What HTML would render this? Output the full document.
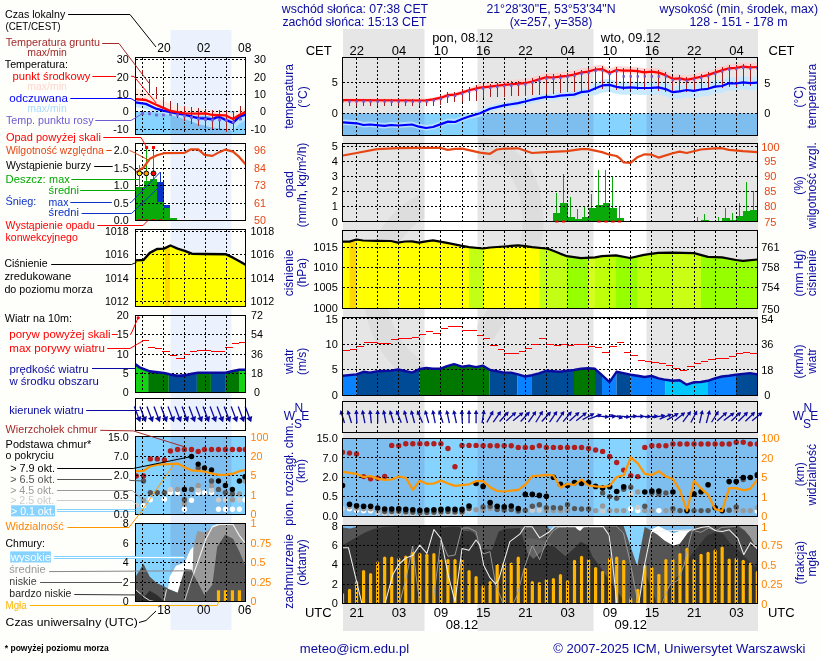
<!DOCTYPE html>
<html><head><meta charset="utf-8"><title>Meteogram</title>
<style>
html,body{margin:0;padding:0;background:#fefefb;}
body{width:820px;height:660px;overflow:hidden;}
svg{display:block;font-family:"Liberation Sans",sans-serif;will-change:transform;}
</style></head><body>
<svg width="820" height="660" viewBox="0 0 820 660">
<defs><clipPath id="night"><rect x="343" y="0" width="81.5" height="660"/><rect x="477.5" y="0" width="116" height="660"/><rect x="646.5" y="0" width="111.5" height="660"/><rect x="170.5" y="0" width="61" height="660"/></clipPath>
<clipPath id="p1"><rect x="342.5" y="57.5" width="415" height="78"/></clipPath>
<clipPath id="p2"><rect x="342.5" y="143.5" width="415" height="78"/></clipPath>
<clipPath id="p3"><rect x="342.5" y="230.5" width="415" height="78"/></clipPath>
<clipPath id="p4"><rect x="342.5" y="317.5" width="415" height="78"/></clipPath>
<clipPath id="p5"><rect x="342.5" y="401.5" width="415" height="31"/></clipPath>
<clipPath id="p6"><rect x="342.5" y="438.5" width="415" height="78"/></clipPath>
<clipPath id="p7"><rect x="342.5" y="525.5" width="415" height="78"/></clipPath>
<clipPath id="m1"><rect x="135.5" y="57.5" width="110" height="77"/></clipPath>
<clipPath id="m2"><rect x="135.5" y="143.5" width="110" height="77"/></clipPath>
<clipPath id="m3"><rect x="135.5" y="229.5" width="110" height="77"/></clipPath>
<clipPath id="m4"><rect x="135.5" y="315.5" width="110" height="77"/></clipPath>
<clipPath id="m5"><rect x="135.5" y="398.5" width="110" height="32"/></clipPath>
<clipPath id="m6"><rect x="135.5" y="436.5" width="110" height="78"/></clipPath>
<clipPath id="m7"><rect x="135.5" y="523.5" width="110" height="78"/></clipPath>
<clipPath id="nb1"><rect x="343" y="29" width="81.5" height="602"/></clipPath>
<clipPath id="pc0"><rect x="343" y="230.5" width="6.5" height="78"/></clipPath>
<clipPath id="pc1"><rect x="349.5" y="230.5" width="7" height="78"/></clipPath>
<clipPath id="pc2"><rect x="356.5" y="230.5" width="112.5" height="78"/></clipPath>
<clipPath id="pc3"><rect x="469" y="230.5" width="14" height="78"/></clipPath>
<clipPath id="pc4"><rect x="483" y="230.5" width="56.5" height="78"/></clipPath>
<clipPath id="pc5"><rect x="539.5" y="230.5" width="27.5" height="78"/></clipPath>
<clipPath id="pc6"><rect x="567" y="230.5" width="21" height="78"/></clipPath>
<clipPath id="pc7"><rect x="588" y="230.5" width="7" height="78"/></clipPath>
<clipPath id="pc8"><rect x="595" y="230.5" width="21" height="78"/></clipPath>
<clipPath id="pc9"><rect x="616" y="230.5" width="21" height="78"/></clipPath>
<clipPath id="pc10"><rect x="637" y="230.5" width="36" height="78"/></clipPath>
<clipPath id="pc11"><rect x="673" y="230.5" width="28" height="78"/></clipPath>
<clipPath id="pc12"><rect x="701" y="230.5" width="57" height="78"/></clipPath>
<clipPath id="wc0"><rect x="343" y="317.5" width="13.5" height="78"/></clipPath>
<clipPath id="wc1"><rect x="356.5" y="317.5" width="63" height="78"/></clipPath>
<clipPath id="wc2"><rect x="419.5" y="317.5" width="70" height="78"/></clipPath>
<clipPath id="wc3"><rect x="489.5" y="317.5" width="28" height="78"/></clipPath>
<clipPath id="wc4"><rect x="517.5" y="317.5" width="14.5" height="78"/></clipPath>
<clipPath id="wc5"><rect x="532" y="317.5" width="42" height="78"/></clipPath>
<clipPath id="wc6"><rect x="574" y="317.5" width="21" height="78"/></clipPath>
<clipPath id="wc7"><rect x="595" y="317.5" width="7" height="78"/></clipPath>
<clipPath id="wc8"><rect x="602" y="317.5" width="14.5" height="78"/></clipPath>
<clipPath id="wc9"><rect x="616.5" y="317.5" width="14" height="78"/></clipPath>
<clipPath id="wc10"><rect x="630.5" y="317.5" width="35" height="78"/></clipPath>
<clipPath id="wc11"><rect x="665.5" y="317.5" width="42.5" height="78"/></clipPath>
<clipPath id="wc12"><rect x="708" y="317.5" width="28" height="78"/></clipPath>
<clipPath id="wc13"><rect x="736" y="317.5" width="22" height="78"/></clipPath>
<clipPath id="mpc"><rect x="165" y="229.5" width="4.8" height="77"/></clipPath>
<clipPath id="mw0"><rect x="135.5" y="315.5" width="12.7" height="77"/></clipPath>
<clipPath id="mw1"><rect x="148.2" y="315.5" width="20.6" height="77"/></clipPath>
<clipPath id="mw2"><rect x="168.8" y="315.5" width="28.1" height="77"/></clipPath>
<clipPath id="mw3"><rect x="196.9" y="315.5" width="14" height="77"/></clipPath>
<clipPath id="mw4"><rect x="210.9" y="315.5" width="14.2" height="77"/></clipPath>
<clipPath id="mw5"><rect x="225.1" y="315.5" width="13.9" height="77"/></clipPath>
<clipPath id="mw6"><rect x="239" y="315.5" width="6.5" height="77"/></clipPath></defs>
<rect x="0" y="0" width="820" height="660" fill="#fefefb" />
<rect x="343" y="29" width="415" height="602" fill="#ffffff" />
<rect x="343" y="29" width="81.5" height="602" fill="#e6e6e6" />
<rect x="477.5" y="29" width="116" height="602" fill="#e6e6e6" />
<rect x="646.5" y="29" width="111.5" height="602" fill="#e6e6e6" />
<rect x="170.5" y="30" width="61" height="600" fill="#ebf2fd" />
<g clip-path="url(#night)" fill="none" stroke="#dddddd">
<ellipse cx="455" cy="290" rx="80" ry="92" stroke-width="23" clip-path="url(#nb1)"/>
<path d="M478,148 C520,150 534,190 533,225 C532,265 505,300 484,335" stroke-width="21"/>
</g>
<g clip-path="url(#p1)">
<polygon points="342.5,113.5 757.5,113.5 757.5,135.5 342.5,135.5" fill="#87d3ff" />
<g clip-path="url(#night)">
<polygon points="342.5,113.5 757.5,113.5 757.5,135.5 342.5,135.5" fill="#7dbeee" />
</g></g>
<g clip-path="url(#p1)">
<polygon points="343,98.2 425,98.5 433,97.4 441,95.7 448,93.1 455,92.6 462,90.6 469,88.3 480,83.4 490,82.4 504,80.7 518,79.5 525,79 532,77.3 539,75.2 546,73 553,73.3 560,72.5 567,71.6 574,70.4 581,68.4 588,67.4 595.5,65.3 602.5,65 609.5,68.7 616.5,65.8 623.5,66.5 630.5,66.5 637.5,67 644.6,68.2 651.6,67.5 658.6,68.4 665.6,70.9 672.7,74.7 679.7,74.2 686.7,75.6 693.7,74.2 700.8,72.5 707.8,70.9 714.8,68.4 721.9,66.2 728.9,64.1 735.9,63.6 743,62.4 750,63.1 757.5,62.8 757.5,69.5 750,69.8 743,69.1 735.9,70.3 728.9,70.8 721.9,72.9 714.8,75.1 707.8,77.6 700.8,79.2 693.7,80.9 686.7,82.3 679.7,80.9 672.7,81.4 665.6,77.6 658.6,75.1 651.6,74.2 644.6,74.9 637.5,73.7 630.5,73.2 623.5,73.2 616.5,72.5 609.5,75.4 602.5,71.7 595.5,72 588,74.1 581,75.1 574,77.1 567,78.3 560,79.2 553,80 546,79.7 539,81.9 532,84 525,85.7 518,86.2 504,87.4 490,89.1 480,90.1 469,92.8 462,95.1 455,97.1 448,97.6 441,100.2 433,101.9 425,103 343,102.7" fill="#ffc8c8" opacity="0.7"/>
<polygon points="343,119.4 356.5,120.3 363.5,122 370,121.5 384.6,122.9 391,122 398,122.5 412,121.5 419,123.7 426,125 433,124 441,121.1 448,118.6 455,119 462,116 469,113.5 480,109.9 490,105.5 504,102.1 518,99.8 525,98.2 532,96.4 546,93.5 553,93.7 560,92.3 574,91.3 581,88.9 588,88.1 595.5,82.3 602.5,79.4 609.5,78.9 616.5,80.9 623.5,81.8 630.5,81.4 637.5,81.8 644.6,82 651.6,81.8 658.6,81.4 665.6,83.1 672.7,86.2 679.7,85.4 686.7,84 693.7,84.9 700.8,83.5 707.8,82.8 714.8,80.6 721.9,80 728.9,77.2 735.9,77.5 743,76.3 750,77.2 757.5,76.6 757.5,89.6 750,90.2 743,89.3 735.9,90.5 728.9,90.2 721.9,93 714.8,93.6 707.8,95.8 700.8,96.5 693.7,97.9 686.7,97 679.7,98.4 672.7,99.2 665.6,96.1 658.6,94.4 651.6,94.8 644.6,95 637.5,94.8 630.5,94.4 623.5,94.8 616.5,93.9 609.5,91.9 602.5,92.4 595.5,95.3 588,94.9 581,95.7 574,98.1 560,99.1 553,100.5 546,100.3 532,103.2 525,105 518,106.6 504,108.9 490,112.3 480,116.7 469,119 462,121.5 455,124.5 448,124.1 441,126.6 433,129.5 426,130.5 419,129.2 412,127 398,128 391,127.5 384.6,128.4 370,127 363.5,127.5 356.5,125.8 343,124.9" fill="#bfe6ff" opacity="0.85"/>
</g>
<g stroke="#000" stroke-width="1" stroke-dasharray="2,2" shape-rendering="crispEdges">
<line x1="356.5" y1="57.5" x2="356.5" y2="135.5"/>
<line x1="377.5" y1="57.5" x2="377.5" y2="135.5"/>
<line x1="398.5" y1="57.5" x2="398.5" y2="135.5"/>
<line x1="419.5" y1="57.5" x2="419.5" y2="135.5"/>
<line x1="440.5" y1="57.5" x2="440.5" y2="135.5"/>
<line x1="462.5" y1="57.5" x2="462.5" y2="135.5"/>
<line x1="483.5" y1="57.5" x2="483.5" y2="135.5"/>
<line x1="504.5" y1="57.5" x2="504.5" y2="135.5"/>
<line x1="525.5" y1="57.5" x2="525.5" y2="135.5"/>
<line x1="546.5" y1="57.5" x2="546.5" y2="135.5"/>
<line x1="567.5" y1="57.5" x2="567.5" y2="135.5"/>
<line x1="588.5" y1="57.5" x2="588.5" y2="135.5"/>
<line x1="609.5" y1="57.5" x2="609.5" y2="135.5"/>
<line x1="630.5" y1="57.5" x2="630.5" y2="135.5"/>
<line x1="651.5" y1="57.5" x2="651.5" y2="135.5"/>
<line x1="672.5" y1="57.5" x2="672.5" y2="135.5"/>
<line x1="694.5" y1="57.5" x2="694.5" y2="135.5"/>
<line x1="715.5" y1="57.5" x2="715.5" y2="135.5"/>
<line x1="736.5" y1="57.5" x2="736.5" y2="135.5"/>
<line x1="342.5" y1="82.5" x2="757.5" y2="82.5"/>
<line x1="342.5" y1="113.5" x2="757.5" y2="113.5"/>
</g>
<g clip-path="url(#p1)">
<line x1="349.5" y1="98.72" x2="349.5" y2="105.97" stroke="#a81e1e" stroke-width="1" shape-rendering="crispEdges"/>
<line x1="356.5" y1="98.75" x2="356.5" y2="105.93" stroke="#a81e1e" stroke-width="1" shape-rendering="crispEdges"/>
<line x1="363.5" y1="98.78" x2="363.5" y2="105.89" stroke="#a81e1e" stroke-width="1" shape-rendering="crispEdges"/>
<line x1="370.5" y1="98.8" x2="370.5" y2="105.86" stroke="#a81e1e" stroke-width="1" shape-rendering="crispEdges"/>
<line x1="377.5" y1="98.83" x2="377.5" y2="105.82" stroke="#a81e1e" stroke-width="1" shape-rendering="crispEdges"/>
<line x1="384.5" y1="98.85" x2="384.5" y2="105.79" stroke="#a81e1e" stroke-width="1" shape-rendering="crispEdges"/>
<line x1="391.5" y1="98.88" x2="391.5" y2="105.75" stroke="#a81e1e" stroke-width="1" shape-rendering="crispEdges"/>
<line x1="398.5" y1="98.9" x2="398.5" y2="105.71" stroke="#a81e1e" stroke-width="1" shape-rendering="crispEdges"/>
<line x1="405.5" y1="98.93" x2="405.5" y2="105.68" stroke="#a81e1e" stroke-width="1" shape-rendering="crispEdges"/>
<line x1="412.5" y1="98.95" x2="412.5" y2="105.64" stroke="#a81e1e" stroke-width="1" shape-rendering="crispEdges"/>
<line x1="419.5" y1="98.98" x2="419.5" y2="105.61" stroke="#a81e1e" stroke-width="1" shape-rendering="crispEdges"/>
<line x1="426.5" y1="98.79" x2="426.5" y2="105.57" stroke="#a81e1e" stroke-width="1" shape-rendering="crispEdges"/>
<line x1="433.5" y1="97.79" x2="433.5" y2="105.53" stroke="#a81e1e" stroke-width="1" shape-rendering="crispEdges"/>
<line x1="440.5" y1="94.81" x2="440.5" y2="105.31" stroke="#a81e1e" stroke-width="1" shape-rendering="crispEdges"/>
<line x1="447.5" y1="92.29" x2="447.5" y2="102.69" stroke="#a81e1e" stroke-width="1" shape-rendering="crispEdges"/>
<line x1="454.5" y1="91.64" x2="454.5" y2="102.15" stroke="#a81e1e" stroke-width="1" shape-rendering="crispEdges"/>
<line x1="462.5" y1="89.44" x2="462.5" y2="101.72" stroke="#a81e1e" stroke-width="1" shape-rendering="crispEdges"/>
<line x1="469.5" y1="87.18" x2="469.5" y2="101.35" stroke="#a81e1e" stroke-width="1" shape-rendering="crispEdges"/>
<line x1="476.5" y1="85.46" x2="476.5" y2="100.76" stroke="#a81e1e" stroke-width="1" shape-rendering="crispEdges"/>
<line x1="483.5" y1="84.25" x2="483.5" y2="97.67" stroke="#a81e1e" stroke-width="1" shape-rendering="crispEdges"/>
<line x1="490.5" y1="83.54" x2="490.5" y2="97.22" stroke="#a81e1e" stroke-width="1" shape-rendering="crispEdges"/>
<line x1="497.5" y1="82.69" x2="497.5" y2="96.78" stroke="#a81e1e" stroke-width="1" shape-rendering="crispEdges"/>
<line x1="504.5" y1="81.86" x2="504.5" y2="96.51" stroke="#a81e1e" stroke-width="1" shape-rendering="crispEdges"/>
<line x1="511.5" y1="81.26" x2="511.5" y2="96.25" stroke="#a81e1e" stroke-width="1" shape-rendering="crispEdges"/>
<line x1="518.5" y1="80.66" x2="518.5" y2="95.98" stroke="#a81e1e" stroke-width="1" shape-rendering="crispEdges"/>
<line x1="525.5" y1="80.08" x2="525.5" y2="95.64" stroke="#a81e1e" stroke-width="1" shape-rendering="crispEdges"/>
<line x1="532.5" y1="78.35" x2="532.5" y2="95.31" stroke="#a81e1e" stroke-width="1" shape-rendering="crispEdges"/>
<line x1="539.5" y1="76.24" x2="539.5" y2="94.95" stroke="#a81e1e" stroke-width="1" shape-rendering="crispEdges"/>
<line x1="546.5" y1="74.22" x2="546.5" y2="94.25" stroke="#a81e1e" stroke-width="1" shape-rendering="crispEdges"/>
<line x1="553.5" y1="74.44" x2="553.5" y2="93.6" stroke="#a81e1e" stroke-width="1" shape-rendering="crispEdges"/>
<line x1="560.5" y1="73.64" x2="560.5" y2="92.95" stroke="#a81e1e" stroke-width="1" shape-rendering="crispEdges"/>
<line x1="567.5" y1="72.71" x2="567.5" y2="92.3" stroke="#a81e1e" stroke-width="1" shape-rendering="crispEdges"/>
<line x1="574.5" y1="71.46" x2="574.5" y2="91.67" stroke="#a81e1e" stroke-width="1" shape-rendering="crispEdges"/>
<line x1="581.5" y1="69.53" x2="581.5" y2="91.27" stroke="#a81e1e" stroke-width="1" shape-rendering="crispEdges"/>
<line x1="588.5" y1="68.46" x2="588.5" y2="90.83" stroke="#a81e1e" stroke-width="1" shape-rendering="crispEdges"/>
<line x1="595.5" y1="66.5" x2="595.5" y2="89.88" stroke="#a81e1e" stroke-width="1" shape-rendering="crispEdges"/>
<line x1="602.5" y1="66.2" x2="602.5" y2="89.04" stroke="#a81e1e" stroke-width="1" shape-rendering="crispEdges"/>
<line x1="609.5" y1="69.9" x2="609.5" y2="89.54" stroke="#a81e1e" stroke-width="1" shape-rendering="crispEdges"/>
<line x1="616.5" y1="67" x2="616.5" y2="89.99" stroke="#a81e1e" stroke-width="1" shape-rendering="crispEdges"/>
<line x1="623.5" y1="67.7" x2="623.5" y2="89.89" stroke="#a81e1e" stroke-width="1" shape-rendering="crispEdges"/>
<line x1="630.5" y1="67.7" x2="630.5" y2="89.79" stroke="#a81e1e" stroke-width="1" shape-rendering="crispEdges"/>
<line x1="637.5" y1="68.2" x2="637.5" y2="89.69" stroke="#a81e1e" stroke-width="1" shape-rendering="crispEdges"/>
<line x1="644.5" y1="69.38" x2="644.5" y2="89.59" stroke="#a81e1e" stroke-width="1" shape-rendering="crispEdges"/>
<line x1="651.5" y1="68.71" x2="651.5" y2="89.58" stroke="#a81e1e" stroke-width="1" shape-rendering="crispEdges"/>
<line x1="658.5" y1="69.59" x2="658.5" y2="90.68" stroke="#a81e1e" stroke-width="1" shape-rendering="crispEdges"/>
<line x1="665.5" y1="72.06" x2="665.5" y2="91.76" stroke="#a81e1e" stroke-width="1" shape-rendering="crispEdges"/>
<line x1="672.5" y1="75.79" x2="672.5" y2="92.57" stroke="#a81e1e" stroke-width="1" shape-rendering="crispEdges"/>
<line x1="679.5" y1="75.41" x2="679.5" y2="92.21" stroke="#a81e1e" stroke-width="1" shape-rendering="crispEdges"/>
<line x1="686.5" y1="76.76" x2="686.5" y2="91.84" stroke="#a81e1e" stroke-width="1" shape-rendering="crispEdges"/>
<line x1="694.5" y1="75.21" x2="694.5" y2="91.29" stroke="#a81e1e" stroke-width="1" shape-rendering="crispEdges"/>
<line x1="701.5" y1="73.54" x2="701.5" y2="90.29" stroke="#a81e1e" stroke-width="1" shape-rendering="crispEdges"/>
<line x1="708.5" y1="71.85" x2="708.5" y2="89.28" stroke="#a81e1e" stroke-width="1" shape-rendering="crispEdges"/>
<line x1="715.5" y1="69.38" x2="715.5" y2="88.25" stroke="#a81e1e" stroke-width="1" shape-rendering="crispEdges"/>
<line x1="722.5" y1="67.22" x2="722.5" y2="87.6" stroke="#a81e1e" stroke-width="1" shape-rendering="crispEdges"/>
<line x1="729.5" y1="65.26" x2="729.5" y2="86.97" stroke="#a81e1e" stroke-width="1" shape-rendering="crispEdges"/>
<line x1="736.5" y1="64.7" x2="736.5" y2="86.57" stroke="#a81e1e" stroke-width="1" shape-rendering="crispEdges"/>
<line x1="743.5" y1="63.65" x2="743.5" y2="86.2" stroke="#a81e1e" stroke-width="1" shape-rendering="crispEdges"/>
<line x1="750.5" y1="64.28" x2="750.5" y2="86.2" stroke="#a81e1e" stroke-width="1" shape-rendering="crispEdges"/>
<line x1="757.5" y1="64" x2="757.5" y2="86.2" stroke="#a81e1e" stroke-width="1" shape-rendering="crispEdges"/>
<polyline points="343,122.4 356.5,123.3 363.5,125 370,124.5 384.6,125.9 391,125 398,125.5 412,124.5 419,126.7 426,128 433,127 441,124.1 448,121.6 455,122 462,119 469,116.5 480,113.2 490,108.8 504,105.4 518,103.1 525,101.5 532,99.7 546,96.8 553,97 560,95.6 574,94.6 581,92.2 588,91.4 595.5,88.3 602.5,85.4 609.5,84.9 616.5,86.9 623.5,87.8 630.5,87.4 637.5,87.8 644.6,88 651.6,87.8 658.6,87.4 665.6,89.1 672.7,92.2 679.7,91.4 686.7,90 693.7,90.9 700.8,89.5 707.8,88.8 714.8,86.6 721.9,86 728.9,83.2 735.9,83.5 743,82.3 750,83.2 757.5,82.6" fill="none" stroke="#0000ff" stroke-width="2.2" stroke-linejoin="round"/>
<polyline points="343,100.2 425,100.5 433,99.4 441,97.7 448,95.1 455,94.6 462,92.6 469,90.3 480,87.6 490,86.6 504,84.9 518,83.7 525,83.2 532,81.5 539,79.4 546,77.2 553,77.5 560,76.7 567,75.8 574,74.6 581,72.6 588,71.6 595.5,69.5 602.5,69.2 609.5,72.9 616.5,70 623.5,70.7 630.5,70.7 637.5,71.2 644.6,72.4 651.6,71.7 658.6,72.6 665.6,75.1 672.7,78.9 679.7,78.4 686.7,79.8 693.7,78.4 700.8,76.7 707.8,75.1 714.8,72.6 721.9,70.4 728.9,68.3 735.9,67.8 743,66.6 750,67.3 757.5,67" fill="none" stroke="#ff0000" stroke-width="2.2" stroke-linejoin="round"/>
<rect x="341.3" y="100.2" width="2.4" height="2.4" fill="#6e5ad2" />
<rect x="348.33" y="100.22" width="2.4" height="2.4" fill="#6e5ad2" />
<rect x="355.36" y="100.25" width="2.4" height="2.4" fill="#6e5ad2" />
<rect x="362.39" y="100.28" width="2.4" height="2.4" fill="#6e5ad2" />
<rect x="369.42" y="100.3" width="2.4" height="2.4" fill="#6e5ad2" />
<rect x="376.45" y="100.33" width="2.4" height="2.4" fill="#6e5ad2" />
<rect x="383.48" y="100.35" width="2.4" height="2.4" fill="#6e5ad2" />
<rect x="390.51" y="100.38" width="2.4" height="2.4" fill="#6e5ad2" />
<rect x="397.54" y="100.4" width="2.4" height="2.4" fill="#6e5ad2" />
<rect x="404.57" y="100.43" width="2.4" height="2.4" fill="#6e5ad2" />
<rect x="411.61" y="100.46" width="2.4" height="2.4" fill="#6e5ad2" />
<rect x="418.64" y="100.48" width="2.4" height="2.4" fill="#6e5ad2" />
<rect x="425.67" y="100.24" width="2.4" height="2.4" fill="#6e5ad2" />
<rect x="432.7" y="99.21" width="2.4" height="2.4" fill="#6e5ad2" />
<rect x="439.73" y="97.72" width="2.4" height="2.4" fill="#6e5ad2" />
<rect x="446.76" y="95.12" width="2.4" height="2.4" fill="#6e5ad2" />
<rect x="453.79" y="94.6" width="2.4" height="2.4" fill="#6e5ad2" />
<rect x="460.82" y="92.59" width="2.4" height="2.4" fill="#6e5ad2" />
<rect x="467.85" y="90.29" width="2.4" height="2.4" fill="#6e5ad2" />
<rect x="474.88" y="88.56" width="2.4" height="2.4" fill="#6e5ad2" />
<rect x="481.91" y="87.29" width="2.4" height="2.4" fill="#6e5ad2" />
<rect x="488.94" y="86.58" width="2.4" height="2.4" fill="#6e5ad2" />
<rect x="495.97" y="85.73" width="2.4" height="2.4" fill="#6e5ad2" />
<rect x="503" y="84.88" width="2.4" height="2.4" fill="#6e5ad2" />
<rect x="510.03" y="84.28" width="2.4" height="2.4" fill="#6e5ad2" />
<rect x="517.06" y="83.68" width="2.4" height="2.4" fill="#6e5ad2" />
<rect x="524.09" y="83.13" width="2.4" height="2.4" fill="#6e5ad2" />
<rect x="531.12" y="81.4" width="2.4" height="2.4" fill="#6e5ad2" />
<rect x="538.15" y="79.29" width="2.4" height="2.4" fill="#6e5ad2" />
<rect x="545.18" y="77.22" width="2.4" height="2.4" fill="#6e5ad2" />
<rect x="552.22" y="77.45" width="2.4" height="2.4" fill="#6e5ad2" />
<rect x="559.25" y="76.64" width="2.4" height="2.4" fill="#6e5ad2" />
<rect x="566.28" y="75.72" width="2.4" height="2.4" fill="#6e5ad2" />
<rect x="573.31" y="74.46" width="2.4" height="2.4" fill="#6e5ad2" />
<rect x="580.34" y="72.52" width="2.4" height="2.4" fill="#6e5ad2" />
<rect x="587.37" y="71.44" width="2.4" height="2.4" fill="#6e5ad2" />
<rect x="594.4" y="69.5" width="2.4" height="2.4" fill="#6e5ad2" />
<rect x="601.43" y="69.27" width="2.4" height="2.4" fill="#6e5ad2" />
<rect x="608.46" y="72.83" width="2.4" height="2.4" fill="#6e5ad2" />
<rect x="615.49" y="70.02" width="2.4" height="2.4" fill="#6e5ad2" />
<rect x="622.52" y="75.2" width="2.4" height="2.4" fill="#6e5ad2" />
<rect x="629.55" y="75.2" width="2.4" height="2.4" fill="#6e5ad2" />
<rect x="636.58" y="75.2" width="2.4" height="2.4" fill="#6e5ad2" />
<rect x="643.61" y="75.2" width="2.4" height="2.4" fill="#6e5ad2" />
<rect x="650.64" y="75.2" width="2.4" height="2.4" fill="#6e5ad2" />
<rect x="657.67" y="75.2" width="2.4" height="2.4" fill="#6e5ad2" />
<rect x="664.7" y="75.2" width="2.4" height="2.4" fill="#6e5ad2" />
<rect x="671.73" y="78.88" width="2.4" height="2.4" fill="#6e5ad2" />
<rect x="678.76" y="78.45" width="2.4" height="2.4" fill="#6e5ad2" />
<rect x="685.79" y="79.74" width="2.4" height="2.4" fill="#6e5ad2" />
<rect x="692.83" y="78.32" width="2.4" height="2.4" fill="#6e5ad2" />
<rect x="699.86" y="76.64" width="2.4" height="2.4" fill="#6e5ad2" />
<rect x="706.89" y="75" width="2.4" height="2.4" fill="#6e5ad2" />
<rect x="713.92" y="72.5" width="2.4" height="2.4" fill="#6e5ad2" />
<rect x="720.95" y="70.33" width="2.4" height="2.4" fill="#6e5ad2" />
<rect x="727.98" y="68.28" width="2.4" height="2.4" fill="#6e5ad2" />
<rect x="735.01" y="67.75" width="2.4" height="2.4" fill="#6e5ad2" />
<rect x="742.04" y="66.62" width="2.4" height="2.4" fill="#6e5ad2" />
<rect x="749.07" y="67.29" width="2.4" height="2.4" fill="#6e5ad2" />
<rect x="756.1" y="67.01" width="2.4" height="2.4" fill="#6e5ad2" />
</g>
<rect x="342.5" y="57.5" width="415" height="78" fill="none" stroke="#000" stroke-width="1" shape-rendering="crispEdges"/>
<rect x="553" y="212.7" width="7" height="8.8" fill="#0aaa0a" shape-rendering="crispEdges"/>
<rect x="560" y="203.3" width="7.5" height="18.2" fill="#0aaa0a" shape-rendering="crispEdges"/>
<rect x="567.5" y="217" width="7" height="4.5" fill="#0aaa0a" shape-rendering="crispEdges"/>
<rect x="574.5" y="219.2" width="7" height="2.3" fill="#0aaa0a" shape-rendering="crispEdges"/>
<rect x="581.5" y="217" width="7" height="4.5" fill="#0aaa0a" shape-rendering="crispEdges"/>
<rect x="588.5" y="207.9" width="7" height="13.6" fill="#0aaa0a" shape-rendering="crispEdges"/>
<rect x="595.5" y="205" width="7" height="16.5" fill="#0aaa0a" shape-rendering="crispEdges"/>
<rect x="602.5" y="203.3" width="7" height="18.2" fill="#0aaa0a" shape-rendering="crispEdges"/>
<rect x="609.5" y="207.9" width="7" height="13.6" fill="#0aaa0a" shape-rendering="crispEdges"/>
<rect x="616.5" y="218.2" width="7" height="3.3" fill="#0aaa0a" shape-rendering="crispEdges"/>
<rect x="701" y="220" width="8" height="1.5" fill="#0aaa0a" shape-rendering="crispEdges"/>
<rect x="722" y="218.2" width="8" height="3.3" fill="#0aaa0a" shape-rendering="crispEdges"/>
<rect x="730" y="220" width="6" height="1.5" fill="#0aaa0a" shape-rendering="crispEdges"/>
<rect x="736" y="215.8" width="7" height="5.7" fill="#0aaa0a" shape-rendering="crispEdges"/>
<rect x="743" y="211" width="7" height="10.5" fill="#0aaa0a" shape-rendering="crispEdges"/>
<rect x="750" y="209.8" width="7.5" height="11.7" fill="#0aaa0a" shape-rendering="crispEdges"/>
<line x1="556.5" y1="193" x2="556.5" y2="221.5" stroke="#0aaa0a" stroke-width="1" shape-rendering="crispEdges"/>
<line x1="563.5" y1="174.3" x2="563.5" y2="221.5" stroke="#0aaa0a" stroke-width="1" shape-rendering="crispEdges"/>
<line x1="570.5" y1="197.3" x2="570.5" y2="221.5" stroke="#0aaa0a" stroke-width="1" shape-rendering="crispEdges"/>
<line x1="577.5" y1="209.3" x2="577.5" y2="221.5" stroke="#0aaa0a" stroke-width="1" shape-rendering="crispEdges"/>
<line x1="584.5" y1="206.7" x2="584.5" y2="221.5" stroke="#0aaa0a" stroke-width="1" shape-rendering="crispEdges"/>
<line x1="591.5" y1="194.3" x2="591.5" y2="221.5" stroke="#0aaa0a" stroke-width="1" shape-rendering="crispEdges"/>
<line x1="598.5" y1="170.4" x2="598.5" y2="221.5" stroke="#0aaa0a" stroke-width="1" shape-rendering="crispEdges"/>
<line x1="605.5" y1="170.4" x2="605.5" y2="221.5" stroke="#0aaa0a" stroke-width="1" shape-rendering="crispEdges"/>
<line x1="612.5" y1="176.3" x2="612.5" y2="221.5" stroke="#0aaa0a" stroke-width="1" shape-rendering="crispEdges"/>
<line x1="619.5" y1="206.7" x2="619.5" y2="221.5" stroke="#0aaa0a" stroke-width="1" shape-rendering="crispEdges"/>
<line x1="697.5" y1="217" x2="697.5" y2="221.5" stroke="#0aaa0a" stroke-width="1" shape-rendering="crispEdges"/>
<line x1="704.5" y1="214" x2="704.5" y2="221.5" stroke="#0aaa0a" stroke-width="1" shape-rendering="crispEdges"/>
<line x1="718.5" y1="217" x2="718.5" y2="221.5" stroke="#0aaa0a" stroke-width="1" shape-rendering="crispEdges"/>
<line x1="725.5" y1="208.4" x2="725.5" y2="221.5" stroke="#0aaa0a" stroke-width="1" shape-rendering="crispEdges"/>
<line x1="732.5" y1="213" x2="732.5" y2="221.5" stroke="#0aaa0a" stroke-width="1" shape-rendering="crispEdges"/>
<line x1="739.5" y1="203.3" x2="739.5" y2="221.5" stroke="#0aaa0a" stroke-width="1" shape-rendering="crispEdges"/>
<line x1="746.5" y1="182" x2="746.5" y2="221.5" stroke="#0aaa0a" stroke-width="1" shape-rendering="crispEdges"/>
<line x1="753.5" y1="191.4" x2="753.5" y2="221.5" stroke="#0aaa0a" stroke-width="1" shape-rendering="crispEdges"/>
<g stroke="#000" stroke-width="1" stroke-dasharray="2,2" shape-rendering="crispEdges">
<line x1="356.5" y1="143.5" x2="356.5" y2="221.5"/>
<line x1="377.5" y1="143.5" x2="377.5" y2="221.5"/>
<line x1="398.5" y1="143.5" x2="398.5" y2="221.5"/>
<line x1="419.5" y1="143.5" x2="419.5" y2="221.5"/>
<line x1="440.5" y1="143.5" x2="440.5" y2="221.5"/>
<line x1="462.5" y1="143.5" x2="462.5" y2="221.5"/>
<line x1="483.5" y1="143.5" x2="483.5" y2="221.5"/>
<line x1="504.5" y1="143.5" x2="504.5" y2="221.5"/>
<line x1="525.5" y1="143.5" x2="525.5" y2="221.5"/>
<line x1="546.5" y1="143.5" x2="546.5" y2="221.5"/>
<line x1="567.5" y1="143.5" x2="567.5" y2="221.5"/>
<line x1="588.5" y1="143.5" x2="588.5" y2="221.5"/>
<line x1="609.5" y1="143.5" x2="609.5" y2="221.5"/>
<line x1="630.5" y1="143.5" x2="630.5" y2="221.5"/>
<line x1="651.5" y1="143.5" x2="651.5" y2="221.5"/>
<line x1="672.5" y1="143.5" x2="672.5" y2="221.5"/>
<line x1="694.5" y1="143.5" x2="694.5" y2="221.5"/>
<line x1="715.5" y1="143.5" x2="715.5" y2="221.5"/>
<line x1="736.5" y1="143.5" x2="736.5" y2="221.5"/>
<line x1="342.5" y1="146.5" x2="757.5" y2="146.5"/>
<line x1="342.5" y1="161.5" x2="757.5" y2="161.5"/>
<line x1="342.5" y1="176.5" x2="757.5" y2="176.5"/>
<line x1="342.5" y1="191.5" x2="757.5" y2="191.5"/>
<line x1="342.5" y1="206.5" x2="757.5" y2="206.5"/>
</g>
<polyline points="343,155.5 356.5,153 377,149.2 398,148.2 420,147.8 440,147.8 447.6,149.9 455,148.9 462,148.7 469,150.2 480,152.6 490,153.8 497,149.5 504,148.7 518,148.3 532,153 546,152.1 567,151.2 581,149.2 588,149.2 602,152.1 609.5,154.7 616.5,156 620,158.4 623.5,162.3 630.5,162.9 637.5,157.2 644.6,154.3 651.6,154.7 658.6,157.6 672.7,153.3 679.7,151.6 686.7,153 700.8,149.5 714.8,148.3 721.9,148.2 728.9,149.9 743,151.2 757.5,152.1" fill="none" stroke="#e64614" stroke-width="2.2" stroke-linejoin="round"/>
<rect x="342.5" y="143.5" width="415" height="78" fill="none" stroke="#000" stroke-width="1" shape-rendering="crispEdges"/>
<rect x="555.1" y="220.5" width="3.4" height="2" fill="#e60000" />
<rect x="561.9" y="220.5" width="3.4" height="2" fill="#e60000" />
<rect x="597.3" y="220.5" width="3.4" height="2" fill="#e60000" />
<rect x="604.3" y="220.5" width="3.4" height="2" fill="#e60000" />
<rect x="611.3" y="220.5" width="3.4" height="2" fill="#e60000" />
<rect x="617.8" y="220.5" width="3.4" height="2" fill="#e60000" />
<polygon points="343,241.6 349.5,241.6 356.5,239.5 363,240.5 377,240.8 391,241 398,242.6 405,241.5 412,241.3 419,242.6 426,241.3 433,240.3 447,242.9 462,245.9 469,247.2 483,248.5 490,247.5 504,246.5 518,245.4 525,246 532,247.2 546,248.5 550,249.5 560,253.6 567,256.2 581,258.2 595,257.4 602,256.2 616,255.4 630,258 644,254.9 658,252.8 672,252.6 694,253.1 708,256.9 722,257.4 736,260 743,260.8 757.5,259.5 757.5,308.5 342.5,308.5" fill="#ffff00" clip-path="url(#pc0)" shape-rendering="crispEdges"/>
<polygon points="343,241.6 349.5,241.6 356.5,239.5 363,240.5 377,240.8 391,241 398,242.6 405,241.5 412,241.3 419,242.6 426,241.3 433,240.3 447,242.9 462,245.9 469,247.2 483,248.5 490,247.5 504,246.5 518,245.4 525,246 532,247.2 546,248.5 550,249.5 560,253.6 567,256.2 581,258.2 595,257.4 602,256.2 616,255.4 630,258 644,254.9 658,252.8 672,252.6 694,253.1 708,256.9 722,257.4 736,260 743,260.8 757.5,259.5 757.5,308.5 342.5,308.5" fill="#ffd700" clip-path="url(#pc1)" shape-rendering="crispEdges"/>
<polygon points="343,241.6 349.5,241.6 356.5,239.5 363,240.5 377,240.8 391,241 398,242.6 405,241.5 412,241.3 419,242.6 426,241.3 433,240.3 447,242.9 462,245.9 469,247.2 483,248.5 490,247.5 504,246.5 518,245.4 525,246 532,247.2 546,248.5 550,249.5 560,253.6 567,256.2 581,258.2 595,257.4 602,256.2 616,255.4 630,258 644,254.9 658,252.8 672,252.6 694,253.1 708,256.9 722,257.4 736,260 743,260.8 757.5,259.5 757.5,308.5 342.5,308.5" fill="#ffff00" clip-path="url(#pc2)" shape-rendering="crispEdges"/>
<polygon points="343,241.6 349.5,241.6 356.5,239.5 363,240.5 377,240.8 391,241 398,242.6 405,241.5 412,241.3 419,242.6 426,241.3 433,240.3 447,242.9 462,245.9 469,247.2 483,248.5 490,247.5 504,246.5 518,245.4 525,246 532,247.2 546,248.5 550,249.5 560,253.6 567,256.2 581,258.2 595,257.4 602,256.2 616,255.4 630,258 644,254.9 658,252.8 672,252.6 694,253.1 708,256.9 722,257.4 736,260 743,260.8 757.5,259.5 757.5,308.5 342.5,308.5" fill="#c3ff14" clip-path="url(#pc3)" shape-rendering="crispEdges"/>
<polygon points="343,241.6 349.5,241.6 356.5,239.5 363,240.5 377,240.8 391,241 398,242.6 405,241.5 412,241.3 419,242.6 426,241.3 433,240.3 447,242.9 462,245.9 469,247.2 483,248.5 490,247.5 504,246.5 518,245.4 525,246 532,247.2 546,248.5 550,249.5 560,253.6 567,256.2 581,258.2 595,257.4 602,256.2 616,255.4 630,258 644,254.9 658,252.8 672,252.6 694,253.1 708,256.9 722,257.4 736,260 743,260.8 757.5,259.5 757.5,308.5 342.5,308.5" fill="#ffff00" clip-path="url(#pc4)" shape-rendering="crispEdges"/>
<polygon points="343,241.6 349.5,241.6 356.5,239.5 363,240.5 377,240.8 391,241 398,242.6 405,241.5 412,241.3 419,242.6 426,241.3 433,240.3 447,242.9 462,245.9 469,247.2 483,248.5 490,247.5 504,246.5 518,245.4 525,246 532,247.2 546,248.5 550,249.5 560,253.6 567,256.2 581,258.2 595,257.4 602,256.2 616,255.4 630,258 644,254.9 658,252.8 672,252.6 694,253.1 708,256.9 722,257.4 736,260 743,260.8 757.5,259.5 757.5,308.5 342.5,308.5" fill="#c3ff14" clip-path="url(#pc5)" shape-rendering="crispEdges"/>
<polygon points="343,241.6 349.5,241.6 356.5,239.5 363,240.5 377,240.8 391,241 398,242.6 405,241.5 412,241.3 419,242.6 426,241.3 433,240.3 447,242.9 462,245.9 469,247.2 483,248.5 490,247.5 504,246.5 518,245.4 525,246 532,247.2 546,248.5 550,249.5 560,253.6 567,256.2 581,258.2 595,257.4 602,256.2 616,255.4 630,258 644,254.9 658,252.8 672,252.6 694,253.1 708,256.9 722,257.4 736,260 743,260.8 757.5,259.5 757.5,308.5 342.5,308.5" fill="#96ff00" clip-path="url(#pc6)" shape-rendering="crispEdges"/>
<polygon points="343,241.6 349.5,241.6 356.5,239.5 363,240.5 377,240.8 391,241 398,242.6 405,241.5 412,241.3 419,242.6 426,241.3 433,240.3 447,242.9 462,245.9 469,247.2 483,248.5 490,247.5 504,246.5 518,245.4 525,246 532,247.2 546,248.5 550,249.5 560,253.6 567,256.2 581,258.2 595,257.4 602,256.2 616,255.4 630,258 644,254.9 658,252.8 672,252.6 694,253.1 708,256.9 722,257.4 736,260 743,260.8 757.5,259.5 757.5,308.5 342.5,308.5" fill="#d2ff1e" clip-path="url(#pc7)" shape-rendering="crispEdges"/>
<polygon points="343,241.6 349.5,241.6 356.5,239.5 363,240.5 377,240.8 391,241 398,242.6 405,241.5 412,241.3 419,242.6 426,241.3 433,240.3 447,242.9 462,245.9 469,247.2 483,248.5 490,247.5 504,246.5 518,245.4 525,246 532,247.2 546,248.5 550,249.5 560,253.6 567,256.2 581,258.2 595,257.4 602,256.2 616,255.4 630,258 644,254.9 658,252.8 672,252.6 694,253.1 708,256.9 722,257.4 736,260 743,260.8 757.5,259.5 757.5,308.5 342.5,308.5" fill="#beff0a" clip-path="url(#pc8)" shape-rendering="crispEdges"/>
<polygon points="343,241.6 349.5,241.6 356.5,239.5 363,240.5 377,240.8 391,241 398,242.6 405,241.5 412,241.3 419,242.6 426,241.3 433,240.3 447,242.9 462,245.9 469,247.2 483,248.5 490,247.5 504,246.5 518,245.4 525,246 532,247.2 546,248.5 550,249.5 560,253.6 567,256.2 581,258.2 595,257.4 602,256.2 616,255.4 630,258 644,254.9 658,252.8 672,252.6 694,253.1 708,256.9 722,257.4 736,260 743,260.8 757.5,259.5 757.5,308.5 342.5,308.5" fill="#96ff00" clip-path="url(#pc9)" shape-rendering="crispEdges"/>
<polygon points="343,241.6 349.5,241.6 356.5,239.5 363,240.5 377,240.8 391,241 398,242.6 405,241.5 412,241.3 419,242.6 426,241.3 433,240.3 447,242.9 462,245.9 469,247.2 483,248.5 490,247.5 504,246.5 518,245.4 525,246 532,247.2 546,248.5 550,249.5 560,253.6 567,256.2 581,258.2 595,257.4 602,256.2 616,255.4 630,258 644,254.9 658,252.8 672,252.6 694,253.1 708,256.9 722,257.4 736,260 743,260.8 757.5,259.5 757.5,308.5 342.5,308.5" fill="#beff0a" clip-path="url(#pc10)" shape-rendering="crispEdges"/>
<polygon points="343,241.6 349.5,241.6 356.5,239.5 363,240.5 377,240.8 391,241 398,242.6 405,241.5 412,241.3 419,242.6 426,241.3 433,240.3 447,242.9 462,245.9 469,247.2 483,248.5 490,247.5 504,246.5 518,245.4 525,246 532,247.2 546,248.5 550,249.5 560,253.6 567,256.2 581,258.2 595,257.4 602,256.2 616,255.4 630,258 644,254.9 658,252.8 672,252.6 694,253.1 708,256.9 722,257.4 736,260 743,260.8 757.5,259.5 757.5,308.5 342.5,308.5" fill="#c8ff14" clip-path="url(#pc11)" shape-rendering="crispEdges"/>
<polygon points="343,241.6 349.5,241.6 356.5,239.5 363,240.5 377,240.8 391,241 398,242.6 405,241.5 412,241.3 419,242.6 426,241.3 433,240.3 447,242.9 462,245.9 469,247.2 483,248.5 490,247.5 504,246.5 518,245.4 525,246 532,247.2 546,248.5 550,249.5 560,253.6 567,256.2 581,258.2 595,257.4 602,256.2 616,255.4 630,258 644,254.9 658,252.8 672,252.6 694,253.1 708,256.9 722,257.4 736,260 743,260.8 757.5,259.5 757.5,308.5 342.5,308.5" fill="#96ff00" clip-path="url(#pc12)" shape-rendering="crispEdges"/>
<g stroke="#000" stroke-width="1" stroke-dasharray="2,2" shape-rendering="crispEdges">
<line x1="356.5" y1="230.5" x2="356.5" y2="308.5"/>
<line x1="377.5" y1="230.5" x2="377.5" y2="308.5"/>
<line x1="398.5" y1="230.5" x2="398.5" y2="308.5"/>
<line x1="419.5" y1="230.5" x2="419.5" y2="308.5"/>
<line x1="440.5" y1="230.5" x2="440.5" y2="308.5"/>
<line x1="462.5" y1="230.5" x2="462.5" y2="308.5"/>
<line x1="483.5" y1="230.5" x2="483.5" y2="308.5"/>
<line x1="504.5" y1="230.5" x2="504.5" y2="308.5"/>
<line x1="525.5" y1="230.5" x2="525.5" y2="308.5"/>
<line x1="546.5" y1="230.5" x2="546.5" y2="308.5"/>
<line x1="567.5" y1="230.5" x2="567.5" y2="308.5"/>
<line x1="588.5" y1="230.5" x2="588.5" y2="308.5"/>
<line x1="609.5" y1="230.5" x2="609.5" y2="308.5"/>
<line x1="630.5" y1="230.5" x2="630.5" y2="308.5"/>
<line x1="651.5" y1="230.5" x2="651.5" y2="308.5"/>
<line x1="672.5" y1="230.5" x2="672.5" y2="308.5"/>
<line x1="694.5" y1="230.5" x2="694.5" y2="308.5"/>
<line x1="715.5" y1="230.5" x2="715.5" y2="308.5"/>
<line x1="736.5" y1="230.5" x2="736.5" y2="308.5"/>
<line x1="342.5" y1="247.5" x2="757.5" y2="247.5"/>
<line x1="342.5" y1="267.5" x2="757.5" y2="267.5"/>
<line x1="342.5" y1="287.5" x2="757.5" y2="287.5"/>
</g>
<polyline points="343,241.6 349.5,241.6 356.5,239.5 363,240.5 377,240.8 391,241 398,242.6 405,241.5 412,241.3 419,242.6 426,241.3 433,240.3 447,242.9 462,245.9 469,247.2 483,248.5 490,247.5 504,246.5 518,245.4 525,246 532,247.2 546,248.5 550,249.5 560,253.6 567,256.2 581,258.2 595,257.4 602,256.2 616,255.4 630,258 644,254.9 658,252.8 672,252.6 694,253.1 708,256.9 722,257.4 736,260 743,260.8 757.5,259.5" fill="none" stroke="#000" stroke-width="2.2" stroke-linejoin="round"/>
<rect x="342.5" y="230.5" width="415" height="78" fill="none" stroke="#000" stroke-width="1" shape-rendering="crispEdges"/>
<polygon points="343,375.7 356.5,374.4 363.5,371.8 370,372.6 377.6,371.3 391,370.6 398,369.5 405,371 412,372.6 419,369.3 426,368 433,368.8 440,368.8 447,366.2 454,364.2 462,366.7 469,365.7 476,367.2 483,365.7 490,370 497,371.3 504,372.6 511,372.6 518,374.4 525,376.5 532,375.2 539,373.4 546,370.8 560,371.8 567,370.8 574,370 581,368.8 588,368.3 595,368.8 602,375.2 609.5,382.1 616.5,371.8 623.5,373.1 630.5,374.7 637.5,375.7 644.6,377 651.6,376 658.6,378.3 665.6,379.8 672.7,380.8 679.7,380.3 686.7,384.7 693.7,382.3 700.8,382 707.8,380.8 714.8,378.3 721.9,376.5 728.9,375.7 735.9,374.7 743,373.9 750,373.1 757.5,374.4 757.5,395.5 342.5,395.5" fill="#0a82ff" clip-path="url(#wc0)" shape-rendering="crispEdges"/>
<polygon points="343,375.7 356.5,374.4 363.5,371.8 370,372.6 377.6,371.3 391,370.6 398,369.5 405,371 412,372.6 419,369.3 426,368 433,368.8 440,368.8 447,366.2 454,364.2 462,366.7 469,365.7 476,367.2 483,365.7 490,370 497,371.3 504,372.6 511,372.6 518,374.4 525,376.5 532,375.2 539,373.4 546,370.8 560,371.8 567,370.8 574,370 581,368.8 588,368.3 595,368.8 602,375.2 609.5,382.1 616.5,371.8 623.5,373.1 630.5,374.7 637.5,375.7 644.6,377 651.6,376 658.6,378.3 665.6,379.8 672.7,380.8 679.7,380.3 686.7,384.7 693.7,382.3 700.8,382 707.8,380.8 714.8,378.3 721.9,376.5 728.9,375.7 735.9,374.7 743,373.9 750,373.1 757.5,374.4 757.5,395.5 342.5,395.5" fill="#004b96" clip-path="url(#wc1)" shape-rendering="crispEdges"/>
<polygon points="343,375.7 356.5,374.4 363.5,371.8 370,372.6 377.6,371.3 391,370.6 398,369.5 405,371 412,372.6 419,369.3 426,368 433,368.8 440,368.8 447,366.2 454,364.2 462,366.7 469,365.7 476,367.2 483,365.7 490,370 497,371.3 504,372.6 511,372.6 518,374.4 525,376.5 532,375.2 539,373.4 546,370.8 560,371.8 567,370.8 574,370 581,368.8 588,368.3 595,368.8 602,375.2 609.5,382.1 616.5,371.8 623.5,373.1 630.5,374.7 637.5,375.7 644.6,377 651.6,376 658.6,378.3 665.6,379.8 672.7,380.8 679.7,380.3 686.7,384.7 693.7,382.3 700.8,382 707.8,380.8 714.8,378.3 721.9,376.5 728.9,375.7 735.9,374.7 743,373.9 750,373.1 757.5,374.4 757.5,395.5 342.5,395.5" fill="#007800" clip-path="url(#wc2)" shape-rendering="crispEdges"/>
<polygon points="343,375.7 356.5,374.4 363.5,371.8 370,372.6 377.6,371.3 391,370.6 398,369.5 405,371 412,372.6 419,369.3 426,368 433,368.8 440,368.8 447,366.2 454,364.2 462,366.7 469,365.7 476,367.2 483,365.7 490,370 497,371.3 504,372.6 511,372.6 518,374.4 525,376.5 532,375.2 539,373.4 546,370.8 560,371.8 567,370.8 574,370 581,368.8 588,368.3 595,368.8 602,375.2 609.5,382.1 616.5,371.8 623.5,373.1 630.5,374.7 637.5,375.7 644.6,377 651.6,376 658.6,378.3 665.6,379.8 672.7,380.8 679.7,380.3 686.7,384.7 693.7,382.3 700.8,382 707.8,380.8 714.8,378.3 721.9,376.5 728.9,375.7 735.9,374.7 743,373.9 750,373.1 757.5,374.4 757.5,395.5 342.5,395.5" fill="#004b96" clip-path="url(#wc3)" shape-rendering="crispEdges"/>
<polygon points="343,375.7 356.5,374.4 363.5,371.8 370,372.6 377.6,371.3 391,370.6 398,369.5 405,371 412,372.6 419,369.3 426,368 433,368.8 440,368.8 447,366.2 454,364.2 462,366.7 469,365.7 476,367.2 483,365.7 490,370 497,371.3 504,372.6 511,372.6 518,374.4 525,376.5 532,375.2 539,373.4 546,370.8 560,371.8 567,370.8 574,370 581,368.8 588,368.3 595,368.8 602,375.2 609.5,382.1 616.5,371.8 623.5,373.1 630.5,374.7 637.5,375.7 644.6,377 651.6,376 658.6,378.3 665.6,379.8 672.7,380.8 679.7,380.3 686.7,384.7 693.7,382.3 700.8,382 707.8,380.8 714.8,378.3 721.9,376.5 728.9,375.7 735.9,374.7 743,373.9 750,373.1 757.5,374.4 757.5,395.5 342.5,395.5" fill="#0a82ff" clip-path="url(#wc4)" shape-rendering="crispEdges"/>
<polygon points="343,375.7 356.5,374.4 363.5,371.8 370,372.6 377.6,371.3 391,370.6 398,369.5 405,371 412,372.6 419,369.3 426,368 433,368.8 440,368.8 447,366.2 454,364.2 462,366.7 469,365.7 476,367.2 483,365.7 490,370 497,371.3 504,372.6 511,372.6 518,374.4 525,376.5 532,375.2 539,373.4 546,370.8 560,371.8 567,370.8 574,370 581,368.8 588,368.3 595,368.8 602,375.2 609.5,382.1 616.5,371.8 623.5,373.1 630.5,374.7 637.5,375.7 644.6,377 651.6,376 658.6,378.3 665.6,379.8 672.7,380.8 679.7,380.3 686.7,384.7 693.7,382.3 700.8,382 707.8,380.8 714.8,378.3 721.9,376.5 728.9,375.7 735.9,374.7 743,373.9 750,373.1 757.5,374.4 757.5,395.5 342.5,395.5" fill="#004b96" clip-path="url(#wc5)" shape-rendering="crispEdges"/>
<polygon points="343,375.7 356.5,374.4 363.5,371.8 370,372.6 377.6,371.3 391,370.6 398,369.5 405,371 412,372.6 419,369.3 426,368 433,368.8 440,368.8 447,366.2 454,364.2 462,366.7 469,365.7 476,367.2 483,365.7 490,370 497,371.3 504,372.6 511,372.6 518,374.4 525,376.5 532,375.2 539,373.4 546,370.8 560,371.8 567,370.8 574,370 581,368.8 588,368.3 595,368.8 602,375.2 609.5,382.1 616.5,371.8 623.5,373.1 630.5,374.7 637.5,375.7 644.6,377 651.6,376 658.6,378.3 665.6,379.8 672.7,380.8 679.7,380.3 686.7,384.7 693.7,382.3 700.8,382 707.8,380.8 714.8,378.3 721.9,376.5 728.9,375.7 735.9,374.7 743,373.9 750,373.1 757.5,374.4 757.5,395.5 342.5,395.5" fill="#007800" clip-path="url(#wc6)" shape-rendering="crispEdges"/>
<polygon points="343,375.7 356.5,374.4 363.5,371.8 370,372.6 377.6,371.3 391,370.6 398,369.5 405,371 412,372.6 419,369.3 426,368 433,368.8 440,368.8 447,366.2 454,364.2 462,366.7 469,365.7 476,367.2 483,365.7 490,370 497,371.3 504,372.6 511,372.6 518,374.4 525,376.5 532,375.2 539,373.4 546,370.8 560,371.8 567,370.8 574,370 581,368.8 588,368.3 595,368.8 602,375.2 609.5,382.1 616.5,371.8 623.5,373.1 630.5,374.7 637.5,375.7 644.6,377 651.6,376 658.6,378.3 665.6,379.8 672.7,380.8 679.7,380.3 686.7,384.7 693.7,382.3 700.8,382 707.8,380.8 714.8,378.3 721.9,376.5 728.9,375.7 735.9,374.7 743,373.9 750,373.1 757.5,374.4 757.5,395.5 342.5,395.5" fill="#004b96" clip-path="url(#wc7)" shape-rendering="crispEdges"/>
<polygon points="343,375.7 356.5,374.4 363.5,371.8 370,372.6 377.6,371.3 391,370.6 398,369.5 405,371 412,372.6 419,369.3 426,368 433,368.8 440,368.8 447,366.2 454,364.2 462,366.7 469,365.7 476,367.2 483,365.7 490,370 497,371.3 504,372.6 511,372.6 518,374.4 525,376.5 532,375.2 539,373.4 546,370.8 560,371.8 567,370.8 574,370 581,368.8 588,368.3 595,368.8 602,375.2 609.5,382.1 616.5,371.8 623.5,373.1 630.5,374.7 637.5,375.7 644.6,377 651.6,376 658.6,378.3 665.6,379.8 672.7,380.8 679.7,380.3 686.7,384.7 693.7,382.3 700.8,382 707.8,380.8 714.8,378.3 721.9,376.5 728.9,375.7 735.9,374.7 743,373.9 750,373.1 757.5,374.4 757.5,395.5 342.5,395.5" fill="#0a82ff" clip-path="url(#wc8)" shape-rendering="crispEdges"/>
<polygon points="343,375.7 356.5,374.4 363.5,371.8 370,372.6 377.6,371.3 391,370.6 398,369.5 405,371 412,372.6 419,369.3 426,368 433,368.8 440,368.8 447,366.2 454,364.2 462,366.7 469,365.7 476,367.2 483,365.7 490,370 497,371.3 504,372.6 511,372.6 518,374.4 525,376.5 532,375.2 539,373.4 546,370.8 560,371.8 567,370.8 574,370 581,368.8 588,368.3 595,368.8 602,375.2 609.5,382.1 616.5,371.8 623.5,373.1 630.5,374.7 637.5,375.7 644.6,377 651.6,376 658.6,378.3 665.6,379.8 672.7,380.8 679.7,380.3 686.7,384.7 693.7,382.3 700.8,382 707.8,380.8 714.8,378.3 721.9,376.5 728.9,375.7 735.9,374.7 743,373.9 750,373.1 757.5,374.4 757.5,395.5 342.5,395.5" fill="#004b96" clip-path="url(#wc9)" shape-rendering="crispEdges"/>
<polygon points="343,375.7 356.5,374.4 363.5,371.8 370,372.6 377.6,371.3 391,370.6 398,369.5 405,371 412,372.6 419,369.3 426,368 433,368.8 440,368.8 447,366.2 454,364.2 462,366.7 469,365.7 476,367.2 483,365.7 490,370 497,371.3 504,372.6 511,372.6 518,374.4 525,376.5 532,375.2 539,373.4 546,370.8 560,371.8 567,370.8 574,370 581,368.8 588,368.3 595,368.8 602,375.2 609.5,382.1 616.5,371.8 623.5,373.1 630.5,374.7 637.5,375.7 644.6,377 651.6,376 658.6,378.3 665.6,379.8 672.7,380.8 679.7,380.3 686.7,384.7 693.7,382.3 700.8,382 707.8,380.8 714.8,378.3 721.9,376.5 728.9,375.7 735.9,374.7 743,373.9 750,373.1 757.5,374.4 757.5,395.5 342.5,395.5" fill="#0a82ff" clip-path="url(#wc10)" shape-rendering="crispEdges"/>
<polygon points="343,375.7 356.5,374.4 363.5,371.8 370,372.6 377.6,371.3 391,370.6 398,369.5 405,371 412,372.6 419,369.3 426,368 433,368.8 440,368.8 447,366.2 454,364.2 462,366.7 469,365.7 476,367.2 483,365.7 490,370 497,371.3 504,372.6 511,372.6 518,374.4 525,376.5 532,375.2 539,373.4 546,370.8 560,371.8 567,370.8 574,370 581,368.8 588,368.3 595,368.8 602,375.2 609.5,382.1 616.5,371.8 623.5,373.1 630.5,374.7 637.5,375.7 644.6,377 651.6,376 658.6,378.3 665.6,379.8 672.7,380.8 679.7,380.3 686.7,384.7 693.7,382.3 700.8,382 707.8,380.8 714.8,378.3 721.9,376.5 728.9,375.7 735.9,374.7 743,373.9 750,373.1 757.5,374.4 757.5,395.5 342.5,395.5" fill="#00c8ff" clip-path="url(#wc11)" shape-rendering="crispEdges"/>
<polygon points="343,375.7 356.5,374.4 363.5,371.8 370,372.6 377.6,371.3 391,370.6 398,369.5 405,371 412,372.6 419,369.3 426,368 433,368.8 440,368.8 447,366.2 454,364.2 462,366.7 469,365.7 476,367.2 483,365.7 490,370 497,371.3 504,372.6 511,372.6 518,374.4 525,376.5 532,375.2 539,373.4 546,370.8 560,371.8 567,370.8 574,370 581,368.8 588,368.3 595,368.8 602,375.2 609.5,382.1 616.5,371.8 623.5,373.1 630.5,374.7 637.5,375.7 644.6,377 651.6,376 658.6,378.3 665.6,379.8 672.7,380.8 679.7,380.3 686.7,384.7 693.7,382.3 700.8,382 707.8,380.8 714.8,378.3 721.9,376.5 728.9,375.7 735.9,374.7 743,373.9 750,373.1 757.5,374.4 757.5,395.5 342.5,395.5" fill="#0a82ff" clip-path="url(#wc12)" shape-rendering="crispEdges"/>
<polygon points="343,375.7 356.5,374.4 363.5,371.8 370,372.6 377.6,371.3 391,370.6 398,369.5 405,371 412,372.6 419,369.3 426,368 433,368.8 440,368.8 447,366.2 454,364.2 462,366.7 469,365.7 476,367.2 483,365.7 490,370 497,371.3 504,372.6 511,372.6 518,374.4 525,376.5 532,375.2 539,373.4 546,370.8 560,371.8 567,370.8 574,370 581,368.8 588,368.3 595,368.8 602,375.2 609.5,382.1 616.5,371.8 623.5,373.1 630.5,374.7 637.5,375.7 644.6,377 651.6,376 658.6,378.3 665.6,379.8 672.7,380.8 679.7,380.3 686.7,384.7 693.7,382.3 700.8,382 707.8,380.8 714.8,378.3 721.9,376.5 728.9,375.7 735.9,374.7 743,373.9 750,373.1 757.5,374.4 757.5,395.5 342.5,395.5" fill="#004b96" clip-path="url(#wc13)" shape-rendering="crispEdges"/>
<g stroke="#000" stroke-width="1" stroke-dasharray="2,2" shape-rendering="crispEdges">
<line x1="356.5" y1="317.5" x2="356.5" y2="395.5"/>
<line x1="377.5" y1="317.5" x2="377.5" y2="395.5"/>
<line x1="398.5" y1="317.5" x2="398.5" y2="395.5"/>
<line x1="419.5" y1="317.5" x2="419.5" y2="395.5"/>
<line x1="440.5" y1="317.5" x2="440.5" y2="395.5"/>
<line x1="462.5" y1="317.5" x2="462.5" y2="395.5"/>
<line x1="483.5" y1="317.5" x2="483.5" y2="395.5"/>
<line x1="504.5" y1="317.5" x2="504.5" y2="395.5"/>
<line x1="525.5" y1="317.5" x2="525.5" y2="395.5"/>
<line x1="546.5" y1="317.5" x2="546.5" y2="395.5"/>
<line x1="567.5" y1="317.5" x2="567.5" y2="395.5"/>
<line x1="588.5" y1="317.5" x2="588.5" y2="395.5"/>
<line x1="609.5" y1="317.5" x2="609.5" y2="395.5"/>
<line x1="630.5" y1="317.5" x2="630.5" y2="395.5"/>
<line x1="651.5" y1="317.5" x2="651.5" y2="395.5"/>
<line x1="672.5" y1="317.5" x2="672.5" y2="395.5"/>
<line x1="694.5" y1="317.5" x2="694.5" y2="395.5"/>
<line x1="715.5" y1="317.5" x2="715.5" y2="395.5"/>
<line x1="736.5" y1="317.5" x2="736.5" y2="395.5"/>
<line x1="342.5" y1="318.5" x2="757.5" y2="318.5"/>
<line x1="342.5" y1="344.5" x2="757.5" y2="344.5"/>
<line x1="342.5" y1="369.5" x2="757.5" y2="369.5"/>
</g>
<polyline points="343,375.7 356.5,374.4 363.5,371.8 370,372.6 377.6,371.3 391,370.6 398,369.5 405,371 412,372.6 419,369.3 426,368 433,368.8 440,368.8 447,366.2 454,364.2 462,366.7 469,365.7 476,367.2 483,365.7 490,370 497,371.3 504,372.6 511,372.6 518,374.4 525,376.5 532,375.2 539,373.4 546,370.8 560,371.8 567,370.8 574,370 581,368.8 588,368.3 595,368.8 602,375.2 609.5,382.1 616.5,371.8 623.5,373.1 630.5,374.7 637.5,375.7 644.6,377 651.6,376 658.6,378.3 665.6,379.8 672.7,380.8 679.7,380.3 686.7,384.7 693.7,382.3 700.8,382 707.8,380.8 714.8,378.3 721.9,376.5 728.9,375.7 735.9,374.7 743,373.9 750,373.1 757.5,374.4" fill="none" stroke="#0a0aa0" stroke-width="2.4" stroke-linejoin="round"/>
<line x1="343" y1="350.5" x2="349.7" y2="350.5" stroke="#ff0000" stroke-width="1" shape-rendering="crispEdges"/>
<line x1="349.7" y1="349.5" x2="356.6" y2="349.5" stroke="#ff0000" stroke-width="1" shape-rendering="crispEdges"/>
<line x1="356.6" y1="346.5" x2="363.5" y2="346.5" stroke="#ff0000" stroke-width="1" shape-rendering="crispEdges"/>
<line x1="363.5" y1="342.5" x2="377.6" y2="342.5" stroke="#ff0000" stroke-width="1" shape-rendering="crispEdges"/>
<line x1="377.6" y1="343.5" x2="391.2" y2="343.5" stroke="#ff0000" stroke-width="1" shape-rendering="crispEdges"/>
<line x1="391" y1="339.5" x2="398" y2="339.5" stroke="#ff0000" stroke-width="1" shape-rendering="crispEdges"/>
<line x1="398" y1="338.5" x2="412" y2="338.5" stroke="#ff0000" stroke-width="1" shape-rendering="crispEdges"/>
<line x1="412" y1="337.5" x2="419" y2="337.5" stroke="#ff0000" stroke-width="1" shape-rendering="crispEdges"/>
<line x1="419" y1="334.5" x2="426" y2="334.5" stroke="#ff0000" stroke-width="1" shape-rendering="crispEdges"/>
<line x1="426" y1="331.5" x2="433" y2="331.5" stroke="#ff0000" stroke-width="1" shape-rendering="crispEdges"/>
<line x1="433" y1="333.5" x2="441" y2="333.5" stroke="#ff0000" stroke-width="1" shape-rendering="crispEdges"/>
<line x1="441" y1="328.5" x2="448" y2="328.5" stroke="#ff0000" stroke-width="1" shape-rendering="crispEdges"/>
<line x1="448" y1="326.5" x2="462" y2="326.5" stroke="#ff0000" stroke-width="1" shape-rendering="crispEdges"/>
<line x1="462" y1="330.5" x2="476.5" y2="330.5" stroke="#ff0000" stroke-width="1" shape-rendering="crispEdges"/>
<line x1="476.5" y1="335.5" x2="483.4" y2="335.5" stroke="#ff0000" stroke-width="1" shape-rendering="crispEdges"/>
<line x1="483.4" y1="338.5" x2="490.3" y2="338.5" stroke="#ff0000" stroke-width="1" shape-rendering="crispEdges"/>
<line x1="490" y1="345.5" x2="497.5" y2="345.5" stroke="#ff0000" stroke-width="1" shape-rendering="crispEdges"/>
<line x1="497.5" y1="349.5" x2="504.4" y2="349.5" stroke="#ff0000" stroke-width="1" shape-rendering="crispEdges"/>
<line x1="504.4" y1="353.5" x2="518.5" y2="353.5" stroke="#ff0000" stroke-width="1" shape-rendering="crispEdges"/>
<line x1="518.5" y1="351.5" x2="525" y2="351.5" stroke="#ff0000" stroke-width="1" shape-rendering="crispEdges"/>
<line x1="525" y1="348.5" x2="532" y2="348.5" stroke="#ff0000" stroke-width="1" shape-rendering="crispEdges"/>
<line x1="532" y1="344.5" x2="539" y2="344.5" stroke="#ff0000" stroke-width="1" shape-rendering="crispEdges"/>
<line x1="539" y1="338.5" x2="546" y2="338.5" stroke="#ff0000" stroke-width="1" shape-rendering="crispEdges"/>
<line x1="546" y1="344.5" x2="554" y2="344.5" stroke="#ff0000" stroke-width="1" shape-rendering="crispEdges"/>
<line x1="554" y1="345.5" x2="560.7" y2="345.5" stroke="#ff0000" stroke-width="1" shape-rendering="crispEdges"/>
<line x1="560.7" y1="344.5" x2="567" y2="344.5" stroke="#ff0000" stroke-width="1" shape-rendering="crispEdges"/>
<line x1="567" y1="345.5" x2="574" y2="345.5" stroke="#ff0000" stroke-width="1" shape-rendering="crispEdges"/>
<line x1="574" y1="344.5" x2="588" y2="344.5" stroke="#ff0000" stroke-width="1" shape-rendering="crispEdges"/>
<line x1="588" y1="346.5" x2="595" y2="346.5" stroke="#ff0000" stroke-width="1" shape-rendering="crispEdges"/>
<line x1="595" y1="347.5" x2="602" y2="347.5" stroke="#ff0000" stroke-width="1" shape-rendering="crispEdges"/>
<line x1="602" y1="352.5" x2="609.5" y2="352.5" stroke="#ff0000" stroke-width="1" shape-rendering="crispEdges"/>
<line x1="609.5" y1="346.5" x2="616.5" y2="346.5" stroke="#ff0000" stroke-width="1" shape-rendering="crispEdges"/>
<line x1="616.5" y1="342.5" x2="623.5" y2="342.5" stroke="#ff0000" stroke-width="1" shape-rendering="crispEdges"/>
<line x1="623.5" y1="352.5" x2="630.5" y2="352.5" stroke="#ff0000" stroke-width="1" shape-rendering="crispEdges"/>
<line x1="630.5" y1="355.5" x2="637.5" y2="355.5" stroke="#ff0000" stroke-width="1" shape-rendering="crispEdges"/>
<line x1="637.5" y1="360.5" x2="644.6" y2="360.5" stroke="#ff0000" stroke-width="1" shape-rendering="crispEdges"/>
<line x1="644.6" y1="361.5" x2="651.6" y2="361.5" stroke="#ff0000" stroke-width="1" shape-rendering="crispEdges"/>
<line x1="651.6" y1="362.5" x2="658.6" y2="362.5" stroke="#ff0000" stroke-width="1" shape-rendering="crispEdges"/>
<line x1="658.6" y1="363.5" x2="665.6" y2="363.5" stroke="#ff0000" stroke-width="1" shape-rendering="crispEdges"/>
<line x1="665.6" y1="365.5" x2="672.7" y2="365.5" stroke="#ff0000" stroke-width="1" shape-rendering="crispEdges"/>
<line x1="672.7" y1="368.5" x2="679.7" y2="368.5" stroke="#ff0000" stroke-width="1" shape-rendering="crispEdges"/>
<line x1="679.7" y1="370.5" x2="686.7" y2="370.5" stroke="#ff0000" stroke-width="1" shape-rendering="crispEdges"/>
<line x1="686.7" y1="366.5" x2="693.7" y2="366.5" stroke="#ff0000" stroke-width="1" shape-rendering="crispEdges"/>
<line x1="693.7" y1="363.5" x2="700.8" y2="363.5" stroke="#ff0000" stroke-width="1" shape-rendering="crispEdges"/>
<line x1="700.8" y1="361.5" x2="707.8" y2="361.5" stroke="#ff0000" stroke-width="1" shape-rendering="crispEdges"/>
<line x1="707.8" y1="359.5" x2="714.8" y2="359.5" stroke="#ff0000" stroke-width="1" shape-rendering="crispEdges"/>
<line x1="714.8" y1="358.5" x2="729" y2="358.5" stroke="#ff0000" stroke-width="1" shape-rendering="crispEdges"/>
<line x1="729" y1="356.5" x2="736" y2="356.5" stroke="#ff0000" stroke-width="1" shape-rendering="crispEdges"/>
<line x1="736" y1="353.5" x2="743" y2="353.5" stroke="#ff0000" stroke-width="1" shape-rendering="crispEdges"/>
<line x1="743" y1="352.5" x2="750" y2="352.5" stroke="#ff0000" stroke-width="1" shape-rendering="crispEdges"/>
<line x1="750" y1="353.5" x2="757.5" y2="353.5" stroke="#ff0000" stroke-width="1" shape-rendering="crispEdges"/>
<rect x="342.5" y="317.5" width="415" height="78" fill="none" stroke="#000" stroke-width="1" shape-rendering="crispEdges"/>
<g stroke="#000" stroke-width="1" stroke-dasharray="2,2" shape-rendering="crispEdges">
<line x1="356.5" y1="401.5" x2="356.5" y2="432.5"/>
<line x1="377.5" y1="401.5" x2="377.5" y2="432.5"/>
<line x1="398.5" y1="401.5" x2="398.5" y2="432.5"/>
<line x1="419.5" y1="401.5" x2="419.5" y2="432.5"/>
<line x1="440.5" y1="401.5" x2="440.5" y2="432.5"/>
<line x1="462.5" y1="401.5" x2="462.5" y2="432.5"/>
<line x1="483.5" y1="401.5" x2="483.5" y2="432.5"/>
<line x1="504.5" y1="401.5" x2="504.5" y2="432.5"/>
<line x1="525.5" y1="401.5" x2="525.5" y2="432.5"/>
<line x1="546.5" y1="401.5" x2="546.5" y2="432.5"/>
<line x1="567.5" y1="401.5" x2="567.5" y2="432.5"/>
<line x1="588.5" y1="401.5" x2="588.5" y2="432.5"/>
<line x1="609.5" y1="401.5" x2="609.5" y2="432.5"/>
<line x1="630.5" y1="401.5" x2="630.5" y2="432.5"/>
<line x1="651.5" y1="401.5" x2="651.5" y2="432.5"/>
<line x1="672.5" y1="401.5" x2="672.5" y2="432.5"/>
<line x1="694.5" y1="401.5" x2="694.5" y2="432.5"/>
<line x1="715.5" y1="401.5" x2="715.5" y2="432.5"/>
<line x1="736.5" y1="401.5" x2="736.5" y2="432.5"/>
</g>
<line x1="344.47" y1="422.96" x2="341.11" y2="411.96" stroke="#0a0aa0" stroke-width="1.3" />
<polygon points="340.53,410.04 343.95,413.39 339.55,414.73" fill="#0a0aa0" />
<line x1="351.5" y1="422.96" x2="348.14" y2="411.96" stroke="#0a0aa0" stroke-width="1.3" />
<polygon points="347.56,410.04 350.98,413.39 346.59,414.73" fill="#0a0aa0" />
<line x1="356.91" y1="423.24" x2="356.31" y2="411.76" stroke="#0a0aa0" stroke-width="1.3" />
<polygon points="356.21,409.76 358.72,413.83 354.13,414.07" fill="#0a0aa0" />
<line x1="364.88" y1="423.13" x2="362.69" y2="411.84" stroke="#0a0aa0" stroke-width="1.3" />
<polygon points="362.3,409.87 365.36,413.56 360.85,414.44" fill="#0a0aa0" />
<line x1="371.33" y1="423.21" x2="370.13" y2="411.78" stroke="#0a0aa0" stroke-width="1.3" />
<polygon points="369.92,409.79 372.64,413.72 368.07,414.2" fill="#0a0aa0" />
<line x1="377.65" y1="423.25" x2="377.65" y2="411.75" stroke="#0a0aa0" stroke-width="1.3" />
<polygon points="377.65,409.75 379.95,413.95 375.35,413.95" fill="#0a0aa0" />
<line x1="385.97" y1="423.13" x2="383.78" y2="411.84" stroke="#0a0aa0" stroke-width="1.3" />
<polygon points="383.4,409.87 386.45,413.56 381.94,414.44" fill="#0a0aa0" />
<line x1="393.69" y1="422.96" x2="390.32" y2="411.96" stroke="#0a0aa0" stroke-width="1.3" />
<polygon points="389.74,410.04 393.17,413.39 388.77,414.73" fill="#0a0aa0" />
<line x1="401.27" y1="422.76" x2="396.96" y2="412.1" stroke="#0a0aa0" stroke-width="1.3" />
<polygon points="396.22,410.24 399.92,413.27 395.66,415" fill="#0a0aa0" />
<line x1="407.52" y1="423.02" x2="404.55" y2="411.91" stroke="#0a0aa0" stroke-width="1.3" />
<polygon points="404.03,409.98 407.34,413.44 402.89,414.63" fill="#0a0aa0" />
<line x1="414.55" y1="423.02" x2="411.58" y2="411.91" stroke="#0a0aa0" stroke-width="1.3" />
<polygon points="411.06,409.98 414.37,413.44 409.92,414.63" fill="#0a0aa0" />
<line x1="422.58" y1="422.67" x2="417.9" y2="412.16" stroke="#0a0aa0" stroke-width="1.3" />
<polygon points="417.09,410.33 420.9,413.23 416.7,415.11" fill="#0a0aa0" />
<line x1="428.73" y1="422.99" x2="425.56" y2="411.93" stroke="#0a0aa0" stroke-width="1.3" />
<polygon points="425.01,410.01 428.37,413.41 423.95,414.68" fill="#0a0aa0" />
<line x1="435.18" y1="423.13" x2="432.99" y2="411.84" stroke="#0a0aa0" stroke-width="1.3" />
<polygon points="432.61,409.87 435.67,413.56 431.15,414.44" fill="#0a0aa0" />
<line x1="443.01" y1="422.92" x2="439.46" y2="411.98" stroke="#0a0aa0" stroke-width="1.3" />
<polygon points="438.84,410.08 442.33,413.36 437.95,414.79" fill="#0a0aa0" />
<line x1="449.36" y1="423.1" x2="446.97" y2="411.85" stroke="#0a0aa0" stroke-width="1.3" />
<polygon points="446.55,409.9 449.68,413.53 445.18,414.48" fill="#0a0aa0" />
<line x1="456.39" y1="423.1" x2="454" y2="411.85" stroke="#0a0aa0" stroke-width="1.3" />
<polygon points="453.58,409.9 456.71,413.53 452.21,414.48" fill="#0a0aa0" />
<line x1="462.37" y1="423.24" x2="461.77" y2="411.76" stroke="#0a0aa0" stroke-width="1.3" />
<polygon points="461.67,409.76 464.18,413.83 459.59,414.07" fill="#0a0aa0" />
<line x1="469.05" y1="423.25" x2="469.05" y2="411.75" stroke="#0a0aa0" stroke-width="1.3" />
<polygon points="469.05,409.75 471.35,413.95 466.75,413.95" fill="#0a0aa0" />
<line x1="476.08" y1="423.25" x2="476.08" y2="411.75" stroke="#0a0aa0" stroke-width="1.3" />
<polygon points="476.08,409.75 478.38,413.95 473.78,413.95" fill="#0a0aa0" />
<line x1="482.05" y1="423.17" x2="483.85" y2="411.81" stroke="#0a0aa0" stroke-width="1.3" />
<polygon points="484.17,409.83 485.78,414.34 481.24,413.62" fill="#0a0aa0" />
<line x1="486.87" y1="422.4" x2="492.44" y2="412.35" stroke="#0a0aa0" stroke-width="1.3" />
<polygon points="493.41,410.6 493.39,415.38 489.37,413.15" fill="#0a0aa0" />
<line x1="493.3" y1="422.03" x2="499.9" y2="412.61" stroke="#0a0aa0" stroke-width="1.3" />
<polygon points="501.04,410.97 500.52,415.73 496.75,413.09" fill="#0a0aa0" />
<line x1="499.6" y1="421.44" x2="507.44" y2="413.03" stroke="#0a0aa0" stroke-width="1.3" />
<polygon points="508.81,411.56 507.62,416.2 504.26,413.07" fill="#0a0aa0" />
<line x1="506.22" y1="421.02" x2="514.76" y2="413.32" stroke="#0a0aa0" stroke-width="1.3" />
<polygon points="516.25,411.98 514.67,416.5 511.59,413.08" fill="#0a0aa0" />
<line x1="513.09" y1="420.84" x2="521.9" y2="413.45" stroke="#0a0aa0" stroke-width="1.3" />
<polygon points="523.43,412.16 521.69,416.62 518.74,413.1" fill="#0a0aa0" />
<line x1="520.69" y1="421.44" x2="528.53" y2="413.03" stroke="#0a0aa0" stroke-width="1.3" />
<polygon points="529.9,411.56 528.71,416.2 525.35,413.07" fill="#0a0aa0" />
<line x1="528.45" y1="422.03" x2="535.05" y2="412.61" stroke="#0a0aa0" stroke-width="1.3" />
<polygon points="536.2,410.97 535.67,415.73 531.9,413.09" fill="#0a0aa0" />
<line x1="535.78" y1="422.22" x2="541.87" y2="412.47" stroke="#0a0aa0" stroke-width="1.3" />
<polygon points="542.93,410.78 542.66,415.56 538.76,413.12" fill="#0a0aa0" />
<line x1="541.78" y1="421.44" x2="549.62" y2="413.03" stroke="#0a0aa0" stroke-width="1.3" />
<polygon points="550.99,411.56 549.81,416.2 546.44,413.07" fill="#0a0aa0" />
<line x1="549.54" y1="422.03" x2="556.14" y2="412.61" stroke="#0a0aa0" stroke-width="1.3" />
<polygon points="557.29,410.97 556.76,415.73 552.99,413.09" fill="#0a0aa0" />
<line x1="556.57" y1="422.03" x2="563.17" y2="412.61" stroke="#0a0aa0" stroke-width="1.3" />
<polygon points="564.32,410.97 563.79,415.73 560.02,413.09" fill="#0a0aa0" />
<line x1="563.14" y1="421.67" x2="570.53" y2="412.86" stroke="#0a0aa0" stroke-width="1.3" />
<polygon points="571.82,411.33 570.88,416.02 567.35,413.07" fill="#0a0aa0" />
<line x1="569.49" y1="421.02" x2="578.04" y2="413.32" stroke="#0a0aa0" stroke-width="1.3" />
<polygon points="579.52,411.98 577.94,416.5 574.86,413.08" fill="#0a0aa0" />
<line x1="576.22" y1="420.66" x2="585.28" y2="413.58" stroke="#0a0aa0" stroke-width="1.3" />
<polygon points="586.86,412.34 584.96,416.74 582.13,413.12" fill="#0a0aa0" />
<line x1="582.61" y1="419.67" x2="592.76" y2="414.27" stroke="#0a0aa0" stroke-width="1.3" />
<polygon points="594.53,413.33 591.9,417.33 589.74,413.27" fill="#0a0aa0" />
<line x1="589.26" y1="418.81" x2="600.06" y2="414.88" stroke="#0a0aa0" stroke-width="1.3" />
<polygon points="601.94,414.19 598.78,417.79 597.21,413.47" fill="#0a0aa0" />
<line x1="595.9" y1="415.91" x2="607.36" y2="416.91" stroke="#0a0aa0" stroke-width="1.3" />
<polygon points="609.35,417.09 604.97,419.01 605.37,414.43" fill="#0a0aa0" />
<line x1="602.91" y1="416.5" x2="614.41" y2="416.5" stroke="#0a0aa0" stroke-width="1.3" />
<polygon points="616.41,416.5 612.21,418.8 612.21,414.2" fill="#0a0aa0" />
<line x1="610.17" y1="414.75" x2="621.28" y2="417.73" stroke="#0a0aa0" stroke-width="1.3" />
<polygon points="623.21,418.25 618.56,419.38 619.75,414.94" fill="#0a0aa0" />
<line x1="617" y1="415.91" x2="628.45" y2="416.91" stroke="#0a0aa0" stroke-width="1.3" />
<polygon points="630.44,417.09 626.06,419.01 626.46,414.43" fill="#0a0aa0" />
<line x1="624.03" y1="417.09" x2="635.48" y2="416.09" stroke="#0a0aa0" stroke-width="1.3" />
<polygon points="637.48,415.91 633.49,418.57 633.09,413.99" fill="#0a0aa0" />
<line x1="631.04" y1="416.74" x2="642.53" y2="416.33" stroke="#0a0aa0" stroke-width="1.3" />
<polygon points="644.53,416.26 640.41,418.71 640.25,414.11" fill="#0a0aa0" />
<line x1="638.06" y1="416.5" x2="649.56" y2="416.5" stroke="#0a0aa0" stroke-width="1.3" />
<polygon points="651.56,416.5 647.36,418.8 647.36,414.2" fill="#0a0aa0" />
<line x1="645.12" y1="417.09" x2="656.57" y2="416.09" stroke="#0a0aa0" stroke-width="1.3" />
<polygon points="658.57,415.91 654.58,418.57 654.18,413.99" fill="#0a0aa0" />
<line x1="652.23" y1="417.67" x2="663.55" y2="415.68" stroke="#0a0aa0" stroke-width="1.3" />
<polygon points="665.52,415.33 661.78,418.32 660.98,413.79" fill="#0a0aa0" />
<line x1="659.64" y1="419.03" x2="670.31" y2="414.72" stroke="#0a0aa0" stroke-width="1.3" />
<polygon points="672.16,413.97 669.13,417.68 667.41,413.41" fill="#0a0aa0" />
<line x1="667.09" y1="419.88" x2="677.05" y2="414.12" stroke="#0a0aa0" stroke-width="1.3" />
<polygon points="678.78,413.12 676.29,417.22 673.99,413.23" fill="#0a0aa0" />
<line x1="674.65" y1="420.66" x2="683.71" y2="413.58" stroke="#0a0aa0" stroke-width="1.3" />
<polygon points="685.28,412.34 683.39,416.74 680.56,413.12" fill="#0a0aa0" />
<line x1="682.93" y1="421.89" x2="689.85" y2="412.71" stroke="#0a0aa0" stroke-width="1.3" />
<polygon points="691.06,411.11 690.37,415.85 686.69,413.08" fill="#0a0aa0" />
<line x1="690.86" y1="422.46" x2="696.26" y2="412.31" stroke="#0a0aa0" stroke-width="1.3" />
<polygon points="697.19,410.54 697.25,415.33 693.19,413.17" fill="#0a0aa0" />
<line x1="699.54" y1="423.08" x2="702.12" y2="411.87" stroke="#0a0aa0" stroke-width="1.3" />
<polygon points="702.57,409.92 703.87,414.53 699.39,413.5" fill="#0a0aa0" />
<line x1="706.34" y1="423.02" x2="709.32" y2="411.91" stroke="#0a0aa0" stroke-width="1.3" />
<polygon points="709.83,409.98 710.97,414.63 706.52,413.44" fill="#0a0aa0" />
<line x1="711.54" y1="422.22" x2="717.63" y2="412.47" stroke="#0a0aa0" stroke-width="1.3" />
<polygon points="718.69,410.78 718.42,415.56 714.52,413.12" fill="#0a0aa0" />
<line x1="717.13" y1="421.02" x2="725.68" y2="413.32" stroke="#0a0aa0" stroke-width="1.3" />
<polygon points="727.16,411.98 725.58,416.5 722.5,413.08" fill="#0a0aa0" />
<line x1="723.79" y1="420.56" x2="732.97" y2="413.64" stroke="#0a0aa0" stroke-width="1.3" />
<polygon points="734.57,412.44 732.6,416.8 729.83,413.13" fill="#0a0aa0" />
<line x1="731.27" y1="421.1" x2="739.68" y2="413.26" stroke="#0a0aa0" stroke-width="1.3" />
<polygon points="741.15,411.9 739.64,416.44 736.5,413.08" fill="#0a0aa0" />
<line x1="738.38" y1="421.19" x2="746.66" y2="413.2" stroke="#0a0aa0" stroke-width="1.3" />
<polygon points="748.09,411.81 746.67,416.38 743.48,413.07" fill="#0a0aa0" />
<line x1="745.41" y1="421.19" x2="753.69" y2="413.2" stroke="#0a0aa0" stroke-width="1.3" />
<polygon points="755.13,411.81 753.7,416.38 750.51,413.07" fill="#0a0aa0" />
<line x1="752.13" y1="420.84" x2="760.94" y2="413.45" stroke="#0a0aa0" stroke-width="1.3" />
<polygon points="762.47,412.16 760.73,416.62 757.78,413.1" fill="#0a0aa0" />
<rect x="342.5" y="401.5" width="415" height="31" fill="none" stroke="#000" stroke-width="1" shape-rendering="crispEdges"/>
<g clip-path="url(#p6)">
<polygon points="342.5,438.5 757.5,438.5 757.5,516.5 342.5,516.5" fill="#87d3ff" />
<g clip-path="url(#night)">
<polygon points="342.5,438.5 757.5,438.5 757.5,516.5 342.5,516.5" fill="#7dbeee" />
</g></g>
<g clip-path="url(#p6)">
<circle cx="349.53" cy="508.8" r="2.7" fill="#fff" />
<circle cx="349.53" cy="506.8" r="2.7" fill="#999" />
<circle cx="356.56" cy="510.2" r="2.7" fill="#fff" />
<circle cx="356.56" cy="508.2" r="2.7" fill="#999" />
<circle cx="363.59" cy="510.8" r="2.7" fill="#fff" />
<circle cx="363.59" cy="508.8" r="2.7" fill="#999" />
<circle cx="370.62" cy="510.8" r="2.7" fill="#fff" />
<circle cx="370.62" cy="508.8" r="2.7" fill="#999" />
<circle cx="377.65" cy="512.5" r="2.7" fill="#ccc" />
<circle cx="377.65" cy="510.5" r="2.7" fill="#999" />
<circle cx="384.68" cy="513.5" r="2.7" fill="#ccc" />
<circle cx="384.68" cy="511.5" r="2.7" fill="#555" />
<circle cx="391.71" cy="513.5" r="2.7" fill="#ccc" />
<circle cx="391.71" cy="511.5" r="2.7" fill="#555" />
<circle cx="398.74" cy="513.2" r="2.7" fill="#ccc" />
<circle cx="398.74" cy="511.2" r="2.7" fill="#555" />
<circle cx="405.77" cy="513.9" r="2.7" fill="#ccc" />
<circle cx="405.77" cy="511.9" r="2.7" fill="#555" />
<circle cx="412.81" cy="514.3" r="2.7" fill="#ccc" />
<circle cx="412.81" cy="512.3" r="2.7" fill="#555" />
<circle cx="419.84" cy="514.8" r="2.7" fill="#ccc" />
<circle cx="419.84" cy="512.8" r="2.7" fill="#555" />
<circle cx="426.87" cy="514.5" r="2.7" fill="#ccc" />
<circle cx="426.87" cy="512.5" r="2.7" fill="#555" />
<circle cx="433.9" cy="514.3" r="2.7" fill="#ccc" />
<circle cx="433.9" cy="512.3" r="2.7" fill="#555" />
<circle cx="440.93" cy="513.9" r="2.7" fill="#ccc" />
<circle cx="440.93" cy="511.9" r="2.7" fill="#555" />
<circle cx="447.96" cy="513.5" r="2.7" fill="#ccc" />
<circle cx="447.96" cy="511.5" r="2.7" fill="#555" />
<circle cx="454.99" cy="513.9" r="2.7" fill="#ccc" />
<circle cx="454.99" cy="511.9" r="2.7" fill="#555" />
<circle cx="462.02" cy="513.9" r="2.7" fill="#ccc" />
<circle cx="462.02" cy="511.9" r="2.7" fill="#555" />
<circle cx="469.05" cy="510.5" r="2.7" fill="#ccc" />
<circle cx="469.05" cy="508.5" r="2.7" fill="#555" />
<circle cx="342.5" cy="508.6" r="2.7" fill="#ccc" />
<circle cx="476.08" cy="509.8" r="2.7" fill="#999" />
<circle cx="483.11" cy="510.3" r="2.7" fill="#999" />
<circle cx="483.11" cy="506.9" r="2.7" fill="#555" />
<circle cx="490.14" cy="508.5" r="2.7" fill="#999" />
<circle cx="490.14" cy="506.2" r="2.7" fill="#555" />
<circle cx="497.17" cy="509.5" r="2.7" fill="#555" />
<circle cx="504.2" cy="510" r="2.7" fill="#555" />
<circle cx="511.23" cy="509.5" r="2.7" fill="#555" />
<circle cx="518.26" cy="511" r="2.7" fill="#555" />
<circle cx="525.29" cy="510.3" r="2.7" fill="#555" />
<circle cx="532.32" cy="510.3" r="2.7" fill="#ccc" />
<circle cx="532.32" cy="506.3" r="2.7" fill="#555" />
<circle cx="539.35" cy="510.3" r="2.7" fill="#ccc" />
<circle cx="539.35" cy="504.8" r="2.7" fill="#555" />
<circle cx="546.38" cy="510.6" r="2.7" fill="#999" />
<circle cx="546.38" cy="507.7" r="2.7" fill="#555" />
<circle cx="553.42" cy="510.6" r="2.7" fill="#999" />
<circle cx="553.42" cy="507.7" r="2.7" fill="#555" />
<circle cx="560.45" cy="510.6" r="2.7" fill="#999" />
<circle cx="560.45" cy="508" r="2.7" fill="#555" />
<circle cx="567.48" cy="510.3" r="2.7" fill="#999" />
<circle cx="567.48" cy="504.8" r="2.7" fill="#555" />
<circle cx="574.51" cy="508.6" r="2.7" fill="#555" />
<circle cx="581.54" cy="509" r="2.7" fill="#555" />
<circle cx="588.57" cy="509" r="2.7" fill="#555" />
<circle cx="595.6" cy="510.6" r="2.7" fill="#999" />
<circle cx="602.63" cy="511.1" r="2.7" fill="#ccc" />
<circle cx="602.63" cy="506" r="2.7" fill="#999" />
<circle cx="602.63" cy="492.9" r="2.7" fill="#555" />
<circle cx="609.66" cy="510.6" r="2.7" fill="#999" />
<circle cx="609.66" cy="496.6" r="2.7" fill="#555" />
<circle cx="616.69" cy="510.6" r="2.7" fill="#999" />
<circle cx="616.69" cy="498.3" r="2.7" fill="#555" />
<circle cx="623.72" cy="510.6" r="2.7" fill="#999" />
<circle cx="623.72" cy="489.3" r="2.7" fill="#555" />
<circle cx="630.75" cy="509" r="2.7" fill="#fff" />
<circle cx="630.75" cy="494" r="2.7" fill="#ccc" />
<circle cx="630.75" cy="487.2" r="2.7" fill="#555" />
<circle cx="637.78" cy="510.6" r="2.7" fill="#fff" />
<circle cx="637.78" cy="507.4" r="2.7" fill="#ccc" />
<circle cx="637.78" cy="492" r="2.7" fill="#999" />
<circle cx="644.81" cy="510.6" r="2.7" fill="#999" />
<circle cx="644.81" cy="506.3" r="2.7" fill="#555" />
<circle cx="651.84" cy="510.6" r="2.7" fill="#999" />
<circle cx="651.84" cy="493" r="2.7" fill="#555" />
<circle cx="658.87" cy="510.6" r="2.7" fill="#fff" />
<circle cx="658.87" cy="494" r="2.7" fill="#555" />
<circle cx="665.9" cy="510.6" r="2.7" fill="#999" />
<circle cx="665.9" cy="492.9" r="2.7" fill="#555" />
<circle cx="672.93" cy="511.1" r="2.7" fill="#999" />
<circle cx="672.93" cy="508.6" r="2.7" fill="#555" />
<circle cx="679.96" cy="510.6" r="2.7" fill="#555" />
<circle cx="694.03" cy="510.6" r="2.7" fill="#555" />
<circle cx="701.06" cy="510.6" r="2.7" fill="#555" />
<circle cx="708.09" cy="510.6" r="2.7" fill="#555" />
<circle cx="729.18" cy="510.3" r="2.7" fill="#555" />
<circle cx="736.21" cy="510.6" r="2.7" fill="#999" />
<circle cx="736.21" cy="506.9" r="2.7" fill="#555" />
<circle cx="743.24" cy="510.6" r="2.7" fill="#999" />
<circle cx="743.24" cy="479.5" r="2.7" fill="#555" />
<circle cx="750.27" cy="510.6" r="2.7" fill="#999" />
<circle cx="757.3" cy="511.1" r="2.7" fill="#fff" />
<circle cx="757.3" cy="507.7" r="2.7" fill="#999" />
<circle cx="342.5" cy="485.5" r="2.8" fill="#000" />
<circle cx="349.53" cy="504.3" r="2.8" fill="#000" />
<circle cx="356.56" cy="505.7" r="2.8" fill="#000" />
<circle cx="363.59" cy="506.3" r="2.8" fill="#000" />
<circle cx="370.62" cy="506.3" r="2.8" fill="#000" />
<circle cx="377.65" cy="508" r="2.8" fill="#000" />
<circle cx="384.68" cy="509" r="2.8" fill="#000" />
<circle cx="391.71" cy="509" r="2.8" fill="#000" />
<circle cx="398.74" cy="508.7" r="2.8" fill="#000" />
<circle cx="405.77" cy="509.4" r="2.8" fill="#000" />
<circle cx="412.81" cy="509.8" r="2.8" fill="#000" />
<circle cx="419.84" cy="510.3" r="2.8" fill="#000" />
<circle cx="426.87" cy="510" r="2.8" fill="#000" />
<circle cx="433.9" cy="509.8" r="2.8" fill="#000" />
<circle cx="440.93" cy="509.4" r="2.8" fill="#000" />
<circle cx="447.96" cy="509" r="2.8" fill="#000" />
<circle cx="454.99" cy="509.4" r="2.8" fill="#000" />
<circle cx="462.02" cy="509.4" r="2.8" fill="#000" />
<circle cx="469.05" cy="506" r="2.8" fill="#000" />
<circle cx="476.08" cy="483.5" r="2.8" fill="#000" />
<circle cx="483.11" cy="486.4" r="2.8" fill="#000" />
<circle cx="490.14" cy="502.6" r="2.8" fill="#000" />
<circle cx="497.17" cy="506.3" r="2.8" fill="#000" />
<circle cx="504.2" cy="506.9" r="2.8" fill="#000" />
<circle cx="511.23" cy="506" r="2.8" fill="#000" />
<circle cx="518.26" cy="508.6" r="2.8" fill="#000" />
<circle cx="525.29" cy="494.4" r="2.8" fill="#000" />
<circle cx="532.32" cy="494.4" r="2.8" fill="#000" />
<circle cx="539.35" cy="495.4" r="2.8" fill="#000" />
<circle cx="546.38" cy="496.3" r="2.8" fill="#000" />
<circle cx="553.42" cy="477.3" r="2.8" fill="#000" />
<circle cx="560.45" cy="484.3" r="2.8" fill="#000" />
<circle cx="567.48" cy="485.5" r="2.8" fill="#000" />
<circle cx="574.51" cy="482.6" r="2.8" fill="#000" />
<circle cx="581.54" cy="483.5" r="2.8" fill="#000" />
<circle cx="588.57" cy="482.6" r="2.8" fill="#000" />
<circle cx="595.6" cy="486.4" r="2.8" fill="#000" />
<circle cx="602.63" cy="488" r="2.8" fill="#000" />
<circle cx="609.66" cy="486.7" r="2.8" fill="#000" />
<circle cx="616.69" cy="491.5" r="2.8" fill="#000" />
<circle cx="623.72" cy="486.7" r="2.8" fill="#000" />
<circle cx="644.81" cy="492" r="2.8" fill="#000" />
<circle cx="651.84" cy="491.1" r="2.8" fill="#000" />
<circle cx="658.87" cy="491.1" r="2.8" fill="#000" />
<circle cx="672.93" cy="492" r="2.8" fill="#000" />
<circle cx="686.99" cy="510.6" r="2.8" fill="#000" />
<circle cx="694.03" cy="494" r="2.8" fill="#000" />
<circle cx="701.06" cy="491.8" r="2.8" fill="#000" />
<circle cx="708.09" cy="484.7" r="2.8" fill="#000" />
<circle cx="715.12" cy="507.7" r="2.8" fill="#000" />
<circle cx="722.15" cy="510.6" r="2.8" fill="#000" />
<circle cx="729.18" cy="481.6" r="2.8" fill="#000" />
<circle cx="736.21" cy="481.6" r="2.8" fill="#000" />
<circle cx="743.24" cy="477.5" r="2.8" fill="#000" />
<circle cx="750.27" cy="477.5" r="2.8" fill="#000" />
<circle cx="757.3" cy="474.9" r="2.8" fill="#000" />
<circle cx="342.5" cy="452.2" r="2.7" fill="#b01e1e" />
<circle cx="349.53" cy="453.1" r="2.7" fill="#b01e1e" />
<circle cx="356.56" cy="453.9" r="2.7" fill="#b01e1e" />
<circle cx="363.59" cy="476.6" r="2.7" fill="#b01e1e" />
<circle cx="370.62" cy="478.7" r="2.7" fill="#b01e1e" />
<circle cx="377.65" cy="478.2" r="2.7" fill="#b01e1e" />
<circle cx="384.68" cy="476.5" r="2.7" fill="#b01e1e" />
<circle cx="391.71" cy="445.4" r="2.7" fill="#b01e1e" />
<circle cx="398.74" cy="445.7" r="2.7" fill="#b01e1e" />
<circle cx="405.77" cy="443.7" r="2.7" fill="#b01e1e" />
<circle cx="412.81" cy="443.7" r="2.7" fill="#b01e1e" />
<circle cx="419.84" cy="443.7" r="2.7" fill="#b01e1e" />
<circle cx="426.87" cy="443.7" r="2.7" fill="#b01e1e" />
<circle cx="433.9" cy="443.7" r="2.7" fill="#b01e1e" />
<circle cx="440.93" cy="443.7" r="2.7" fill="#b01e1e" />
<circle cx="447.96" cy="448.5" r="2.7" fill="#b01e1e" />
<circle cx="454.99" cy="466.7" r="2.7" fill="#b01e1e" />
<circle cx="462.02" cy="445.4" r="2.7" fill="#b01e1e" />
<circle cx="469.05" cy="445.4" r="2.7" fill="#b01e1e" />
<circle cx="476.08" cy="445.4" r="2.7" fill="#b01e1e" />
<circle cx="483.11" cy="445.7" r="2.7" fill="#b01e1e" />
<circle cx="490.14" cy="445.7" r="2.7" fill="#b01e1e" />
<circle cx="497.17" cy="445.7" r="2.7" fill="#b01e1e" />
<circle cx="504.2" cy="445.7" r="2.7" fill="#b01e1e" />
<circle cx="511.23" cy="445.7" r="2.7" fill="#b01e1e" />
<circle cx="518.26" cy="447.4" r="2.7" fill="#b01e1e" />
<circle cx="525.29" cy="447.4" r="2.7" fill="#b01e1e" />
<circle cx="532.32" cy="447.4" r="2.7" fill="#b01e1e" />
<circle cx="539.35" cy="445.7" r="2.7" fill="#b01e1e" />
<circle cx="546.38" cy="447.4" r="2.7" fill="#b01e1e" />
<circle cx="553.42" cy="447.4" r="2.7" fill="#b01e1e" />
<circle cx="560.45" cy="447.4" r="2.7" fill="#b01e1e" />
<circle cx="567.48" cy="447.4" r="2.7" fill="#b01e1e" />
<circle cx="574.51" cy="447.4" r="2.7" fill="#b01e1e" />
<circle cx="581.54" cy="447.4" r="2.7" fill="#b01e1e" />
<circle cx="588.57" cy="448.5" r="2.7" fill="#b01e1e" />
<circle cx="595.6" cy="450" r="2.7" fill="#b01e1e" />
<circle cx="602.63" cy="451.4" r="2.7" fill="#b01e1e" />
<circle cx="609.66" cy="456.5" r="2.7" fill="#b01e1e" />
<circle cx="616.69" cy="462.5" r="2.7" fill="#b01e1e" />
<circle cx="623.72" cy="470.1" r="2.7" fill="#b01e1e" />
<circle cx="630.75" cy="475.6" r="2.7" fill="#b01e1e" />
<circle cx="637.78" cy="476.6" r="2.7" fill="#b01e1e" />
<circle cx="644.81" cy="447.4" r="2.7" fill="#b01e1e" />
<circle cx="651.84" cy="445.7" r="2.7" fill="#b01e1e" />
<circle cx="658.87" cy="445.7" r="2.7" fill="#b01e1e" />
<circle cx="665.9" cy="445.7" r="2.7" fill="#b01e1e" />
<circle cx="672.93" cy="444" r="2.7" fill="#b01e1e" />
<circle cx="679.96" cy="444" r="2.7" fill="#b01e1e" />
<circle cx="686.99" cy="444" r="2.7" fill="#b01e1e" />
<circle cx="694.03" cy="444" r="2.7" fill="#b01e1e" />
<circle cx="701.06" cy="444" r="2.7" fill="#b01e1e" />
<circle cx="708.09" cy="444" r="2.7" fill="#b01e1e" />
<circle cx="715.12" cy="444" r="2.7" fill="#b01e1e" />
<circle cx="722.15" cy="444" r="2.7" fill="#b01e1e" />
<circle cx="729.18" cy="444" r="2.7" fill="#b01e1e" />
<circle cx="736.21" cy="442.3" r="2.7" fill="#b01e1e" />
<circle cx="743.24" cy="442.3" r="2.7" fill="#b01e1e" />
<circle cx="750.27" cy="444" r="2.7" fill="#b01e1e" />
<circle cx="757.3" cy="444" r="2.7" fill="#b01e1e" />
</g>
<g stroke="#000" stroke-width="1" stroke-dasharray="2,2" shape-rendering="crispEdges">
<line x1="356.5" y1="438.5" x2="356.5" y2="516.5"/>
<line x1="377.5" y1="438.5" x2="377.5" y2="516.5"/>
<line x1="398.5" y1="438.5" x2="398.5" y2="516.5"/>
<line x1="419.5" y1="438.5" x2="419.5" y2="516.5"/>
<line x1="440.5" y1="438.5" x2="440.5" y2="516.5"/>
<line x1="462.5" y1="438.5" x2="462.5" y2="516.5"/>
<line x1="483.5" y1="438.5" x2="483.5" y2="516.5"/>
<line x1="504.5" y1="438.5" x2="504.5" y2="516.5"/>
<line x1="525.5" y1="438.5" x2="525.5" y2="516.5"/>
<line x1="546.5" y1="438.5" x2="546.5" y2="516.5"/>
<line x1="567.5" y1="438.5" x2="567.5" y2="516.5"/>
<line x1="588.5" y1="438.5" x2="588.5" y2="516.5"/>
<line x1="609.5" y1="438.5" x2="609.5" y2="516.5"/>
<line x1="630.5" y1="438.5" x2="630.5" y2="516.5"/>
<line x1="651.5" y1="438.5" x2="651.5" y2="516.5"/>
<line x1="672.5" y1="438.5" x2="672.5" y2="516.5"/>
<line x1="694.5" y1="438.5" x2="694.5" y2="516.5"/>
<line x1="715.5" y1="438.5" x2="715.5" y2="516.5"/>
<line x1="736.5" y1="438.5" x2="736.5" y2="516.5"/>
<line x1="342.5" y1="457.5" x2="757.5" y2="457.5"/>
<line x1="342.5" y1="477.5" x2="757.5" y2="477.5"/>
<line x1="342.5" y1="496.5" x2="757.5" y2="496.5"/>
</g>
<g clip-path="url(#p6)">
<polyline points="343,471.9 356.5,473.9 363.6,477 370.6,476.1 377.6,478.7 384.7,479.9 391.7,479.5 398.7,476.5 405.8,477.8 412.8,489.8 419.8,480.7 426.9,483.8 433.9,483.5 440.9,480.4 448,483.5 455,485.9 462,485.2 469,484.3 476,481.2 483,481.2 490.1,487.2 497.2,491 504.2,491.5 511.2,490.6 518.3,489.8 525.3,484.7 532.3,476.1 539.3,475.6 546.4,474.9 553.4,475.3 560.4,487.7 567.5,483.8 574.5,485 581.5,479.5 588.5,485.5 595.6,486.4 602.6,486.9 609.6,485.9 616.7,477 623.7,475.3 630.7,457.3 637.8,463.3 644.8,473.9 651.8,474.9 658.9,471.3 665.9,476.5 672.9,479 679.9,490.3 687,510.8 694,480.7 701,488.4 708.1,494.9 715.1,509.1 722.1,511.1 729.2,488.1 736.2,488.1 743.2,490.3 750.2,488.9 757.5,479.5" fill="none" stroke="#ff9600" stroke-width="2.2" stroke-linejoin="round"/>
</g>
<rect x="342.5" y="438.5" width="415" height="78" fill="none" stroke="#000" stroke-width="1" shape-rendering="crispEdges"/>
<g clip-path="url(#p7)">
<polygon points="342.5,525.5 757.5,525.5 757.5,603.5 342.5,603.5" fill="#87d3ff" />
<g clip-path="url(#night)">
<polygon points="342.5,525.5 757.5,525.5 757.5,603.5 342.5,603.5" fill="#7dbeee" />
</g></g>
<g clip-path="url(#p7)">
<polygon points="574,525.5 586,525.5 584,527 580,531 577,529" fill="#fff" />
<polygon points="648,531 651.6,529.5 658.3,526 664.5,529.2 673.2,533.6 679.4,531 688,530.5 695,528.5 693.4,535 680,548 660,545" fill="#fff" />
<polygon points="343,527.5 350,528.5 356,527 357,525.5 547,525.5 549,529 552,530 555,526 557,525.5 623.5,525.5 630,545 637.2,565.9 641,546 644.7,526.7 650.9,530.5 657,534.2 664.5,540.4 673.2,545.4 679.4,544.1 688.3,533.2 693.4,529.8 696,525.5 758,525.5 758,604 343,604" fill="#555" />
<polygon points="738,525.5 758,525.5 758,552 754.5,545.4 750,536.7 744,530" fill="#999" />
<polygon points="574,525.5 586,525.5 584,527 580,531 577,529" fill="#fff" />
<polygon points="525,540 530,538 546,541 552,545 560,550 565.4,556.3 560,551.6 554.5,546.6 547.1,545.4 542.1,551.6 533.4,559 527.2,552.8" fill="#626262" />
<polygon points="680,544 687.5,533 692.4,529 722,528 736,526.7 744.6,530.5 749.6,536.7 754.5,545.4 758,552 758,604 680,604" fill="#484848" />
<polygon points="343,545 350,541 357,537 366,532 374,529 383,527 400,526 437,526 444,527.5 452,526.5 460,527 463,531 470,531 474,533 478,540 480,550 483.5,549 492,550 498.6,531.7 504,529 519.8,528 526,547.8 527.2,552.8 533.4,559 542.1,551.6 547.1,545.4 554.5,546.6 560,551.6 565.4,556.3 573.9,548.6 580.7,541.8 587.6,545.2 592.7,557.1 599.5,565.7 602.4,570.2 614.8,587.6 626,604 638.4,604 645.9,574 657,604 659.6,604 674.5,579 680,575 685,564 692,554 700,544 707,535.4 716,531.7 723.5,534.2 729.7,542.9 736,547.8 742,554 749.6,561.5 758,569 758,604 343,604" fill="#333" />
<path d="M340.9,603.5 L340.9,594.6 A1.6,1.6 0 0 1 344.1,594.6 L344.1,603.5 Z" fill="#ffb400"/>
<path d="M347.93,603.5 L347.93,590.3 A1.6,1.6 0 0 1 351.13,590.3 L351.13,603.5 Z" fill="#ffb400"/>
<path d="M354.96,603.5 L354.96,582.6 A1.6,1.6 0 0 1 358.16,582.6 L358.16,603.5 Z" fill="#ffb400"/>
<path d="M361.99,603.5 L361.99,571.6 A1.6,1.6 0 0 1 365.19,571.6 L365.19,603.5 Z" fill="#ffb400"/>
<path d="M369.02,603.5 L369.02,574.5 A1.6,1.6 0 0 1 372.22,574.5 L372.22,603.5 Z" fill="#ffb400"/>
<path d="M376.05,603.5 L376.05,563 A1.6,1.6 0 0 1 379.25,563 L379.25,603.5 Z" fill="#ffb400"/>
<path d="M383.08,603.5 L383.08,558.2 A1.6,1.6 0 0 1 386.28,558.2 L386.28,603.5 Z" fill="#ffb400"/>
<path d="M390.11,603.5 L390.11,558.2 A1.6,1.6 0 0 1 393.31,558.2 L393.31,603.5 Z" fill="#ffb400"/>
<path d="M397.14,603.5 L397.14,559.3 A1.6,1.6 0 0 1 400.34,559.3 L400.34,603.5 Z" fill="#ffb400"/>
<path d="M404.17,603.5 L404.17,557 A1.6,1.6 0 0 1 407.37,557 L407.37,603.5 Z" fill="#ffb400"/>
<path d="M411.21,603.5 L411.21,553.3 A1.6,1.6 0 0 1 414.41,553.3 L414.41,603.5 Z" fill="#ffb400"/>
<path d="M418.24,603.5 L418.24,554.5 A1.6,1.6 0 0 1 421.44,554.5 L421.44,603.5 Z" fill="#ffb400"/>
<path d="M425.27,603.5 L425.27,555.3 A1.6,1.6 0 0 1 428.47,555.3 L428.47,603.5 Z" fill="#ffb400"/>
<path d="M432.3,603.5 L432.3,554.5 A1.6,1.6 0 0 1 435.5,554.5 L435.5,603.5 Z" fill="#ffb400"/>
<path d="M439.33,603.5 L439.33,560.5 A1.6,1.6 0 0 1 442.53,560.5 L442.53,603.5 Z" fill="#ffb400"/>
<path d="M446.36,603.5 L446.36,560.5 A1.6,1.6 0 0 1 449.56,560.5 L449.56,603.5 Z" fill="#ffb400"/>
<path d="M453.39,603.5 L453.39,560.5 A1.6,1.6 0 0 1 456.59,560.5 L456.59,603.5 Z" fill="#ffb400"/>
<path d="M460.42,603.5 L460.42,560.5 A1.6,1.6 0 0 1 463.62,560.5 L463.62,603.5 Z" fill="#ffb400"/>
<path d="M467.45,603.5 L467.45,571.6 A1.6,1.6 0 0 1 470.65,571.6 L470.65,603.5 Z" fill="#ffb400"/>
<path d="M474.48,603.5 L474.48,577.5 A1.6,1.6 0 0 1 477.68,577.5 L477.68,603.5 Z" fill="#ffb400"/>
<path d="M481.51,603.5 L481.51,586.9 A1.6,1.6 0 0 1 484.71,586.9 L484.71,603.5 Z" fill="#ffb400"/>
<path d="M488.54,603.5 L488.54,582.6 A1.6,1.6 0 0 1 491.74,582.6 L491.74,603.5 Z" fill="#ffb400"/>
<path d="M495.57,603.5 L495.57,565.6 A1.6,1.6 0 0 1 498.77,565.6 L498.77,603.5 Z" fill="#ffb400"/>
<path d="M502.6,603.5 L502.6,563.6 A1.6,1.6 0 0 1 505.8,563.6 L505.8,603.5 Z" fill="#ffb400"/>
<path d="M509.63,603.5 L509.63,564.2 A1.6,1.6 0 0 1 512.83,564.2 L512.83,603.5 Z" fill="#ffb400"/>
<path d="M516.66,603.5 L516.66,558.2 A1.6,1.6 0 0 1 519.86,558.2 L519.86,603.5 Z" fill="#ffb400"/>
<path d="M523.69,603.5 L523.69,569.3 A1.6,1.6 0 0 1 526.89,569.3 L526.89,603.5 Z" fill="#ffb400"/>
<path d="M530.72,603.5 L530.72,582.6 A1.6,1.6 0 0 1 533.92,582.6 L533.92,603.5 Z" fill="#ffb400"/>
<path d="M537.75,603.5 L537.75,583.5 A1.6,1.6 0 0 1 540.95,583.5 L540.95,603.5 Z" fill="#ffb400"/>
<path d="M544.78,603.5 L544.78,580.6 A1.6,1.6 0 0 1 547.98,580.6 L547.98,603.5 Z" fill="#ffb400"/>
<path d="M551.82,603.5 L551.82,579.6 A1.6,1.6 0 0 1 555.02,579.6 L555.02,603.5 Z" fill="#ffb400"/>
<path d="M558.85,603.5 L558.85,575.5 A1.6,1.6 0 0 1 562.05,575.5 L562.05,603.5 Z" fill="#ffb400"/>
<path d="M565.88,603.5 L565.88,581.8 A1.6,1.6 0 0 1 569.08,581.8 L569.08,603.5 Z" fill="#ffb400"/>
<path d="M572.91,603.5 L572.91,561.3 A1.6,1.6 0 0 1 576.11,561.3 L576.11,603.5 Z" fill="#ffb400"/>
<path d="M579.94,603.5 L579.94,557.4 A1.6,1.6 0 0 1 583.14,557.4 L583.14,603.5 Z" fill="#ffb400"/>
<path d="M586.97,603.5 L586.97,560.5 A1.6,1.6 0 0 1 590.17,560.5 L590.17,603.5 Z" fill="#ffb400"/>
<path d="M594,603.5 L594,568.6 A1.6,1.6 0 0 1 597.2,568.6 L597.2,603.5 Z" fill="#ffb400"/>
<path d="M601.03,603.5 L601.03,572.4 A1.6,1.6 0 0 1 604.23,572.4 L604.23,603.5 Z" fill="#ffb400"/>
<path d="M608.06,603.5 L608.06,559.3 A1.6,1.6 0 0 1 611.26,559.3 L611.26,603.5 Z" fill="#ffb400"/>
<path d="M615.09,603.5 L615.09,558.2 A1.6,1.6 0 0 1 618.29,558.2 L618.29,603.5 Z" fill="#ffb400"/>
<path d="M622.12,603.5 L622.12,561.3 A1.6,1.6 0 0 1 625.32,561.3 L625.32,603.5 Z" fill="#ffb400"/>
<path d="M629.15,603.5 L629.15,599.4 A1.6,1.6 0 0 1 632.35,599.4 L632.35,603.5 Z" fill="#ffb400"/>
<path d="M636.18,603.5 L636.18,590.3 A1.6,1.6 0 0 1 639.38,590.3 L639.38,603.5 Z" fill="#ffb400"/>
<path d="M643.21,603.5 L643.21,566.4 A1.6,1.6 0 0 1 646.41,566.4 L646.41,603.5 Z" fill="#ffb400"/>
<path d="M650.24,603.5 L650.24,568.6 A1.6,1.6 0 0 1 653.44,568.6 L653.44,603.5 Z" fill="#ffb400"/>
<path d="M657.27,603.5 L657.27,575.3 A1.6,1.6 0 0 1 660.47,575.3 L660.47,603.5 Z" fill="#ffb400"/>
<path d="M664.3,603.5 L664.3,560.5 A1.6,1.6 0 0 1 667.5,560.5 L667.5,603.5 Z" fill="#ffb400"/>
<path d="M671.33,603.5 L671.33,560.5 A1.6,1.6 0 0 1 674.53,560.5 L674.53,603.5 Z" fill="#ffb400"/>
<path d="M678.36,603.5 L678.36,554.5 A1.6,1.6 0 0 1 681.56,554.5 L681.56,603.5 Z" fill="#ffb400"/>
<path d="M685.39,603.5 L685.39,549.4 A1.6,1.6 0 0 1 688.59,549.4 L688.59,603.5 Z" fill="#ffb400"/>
<path d="M692.43,603.5 L692.43,560.5 A1.6,1.6 0 0 1 695.63,560.5 L695.63,603.5 Z" fill="#ffb400"/>
<path d="M699.46,603.5 L699.46,555.3 A1.6,1.6 0 0 1 702.66,555.3 L702.66,603.5 Z" fill="#ffb400"/>
<path d="M706.49,603.5 L706.49,553.3 A1.6,1.6 0 0 1 709.69,553.3 L709.69,603.5 Z" fill="#ffb400"/>
<path d="M713.52,603.5 L713.52,551.1 A1.6,1.6 0 0 1 716.72,551.1 L716.72,603.5 Z" fill="#ffb400"/>
<path d="M720.55,603.5 L720.55,548.2 A1.6,1.6 0 0 1 723.75,548.2 L723.75,603.5 Z" fill="#ffb400"/>
<path d="M727.58,603.5 L727.58,560.1 A1.6,1.6 0 0 1 730.78,560.1 L730.78,603.5 Z" fill="#ffb400"/>
<path d="M734.61,603.5 L734.61,559.3 A1.6,1.6 0 0 1 737.81,559.3 L737.81,603.5 Z" fill="#ffb400"/>
<path d="M741.64,603.5 L741.64,561.3 A1.6,1.6 0 0 1 744.84,561.3 L744.84,603.5 Z" fill="#ffb400"/>
<path d="M748.67,603.5 L748.67,564.2 A1.6,1.6 0 0 1 751.87,564.2 L751.87,603.5 Z" fill="#ffb400"/>
<path d="M755.7,603.5 L755.7,572.4 A1.6,1.6 0 0 1 758.9,572.4 L758.9,603.5 Z" fill="#ffb400"/>
</g>
<g stroke="#000" stroke-width="1" stroke-dasharray="2,2" shape-rendering="crispEdges">
<line x1="356.5" y1="525.5" x2="356.5" y2="603.5"/>
<line x1="377.5" y1="525.5" x2="377.5" y2="603.5"/>
<line x1="398.5" y1="525.5" x2="398.5" y2="603.5"/>
<line x1="419.5" y1="525.5" x2="419.5" y2="603.5"/>
<line x1="440.5" y1="525.5" x2="440.5" y2="603.5"/>
<line x1="462.5" y1="525.5" x2="462.5" y2="603.5"/>
<line x1="483.5" y1="525.5" x2="483.5" y2="603.5"/>
<line x1="504.5" y1="525.5" x2="504.5" y2="603.5"/>
<line x1="525.5" y1="525.5" x2="525.5" y2="603.5"/>
<line x1="546.5" y1="525.5" x2="546.5" y2="603.5"/>
<line x1="567.5" y1="525.5" x2="567.5" y2="603.5"/>
<line x1="588.5" y1="525.5" x2="588.5" y2="603.5"/>
<line x1="609.5" y1="525.5" x2="609.5" y2="603.5"/>
<line x1="630.5" y1="525.5" x2="630.5" y2="603.5"/>
<line x1="651.5" y1="525.5" x2="651.5" y2="603.5"/>
<line x1="672.5" y1="525.5" x2="672.5" y2="603.5"/>
<line x1="694.5" y1="525.5" x2="694.5" y2="603.5"/>
<line x1="715.5" y1="525.5" x2="715.5" y2="603.5"/>
<line x1="736.5" y1="525.5" x2="736.5" y2="603.5"/>
<line x1="342.5" y1="545.5" x2="757.5" y2="545.5"/>
<line x1="342.5" y1="564.5" x2="757.5" y2="564.5"/>
<line x1="342.5" y1="584.5" x2="757.5" y2="584.5"/>
</g>
<g clip-path="url(#p7)">
<polyline points="398.7,606 405.7,580 412.7,546 416,575 420.2,606 432.6,606 441,540 448,556.3 455,555 462,528 469,528 476,531.5 480,548.6 483.7,554 490,551.6 495.5,584 504,606 512,606 517.3,595 524.7,566.5 532.2,545.4 539.6,559.6 547.1,539.1 553.3,530.5 559.5,526.7 616,526 623.5,533 629.8,560.3 636,592.6 638.5,606 661,606 669.5,585 678.2,580 684.4,564 690,539 692.4,530.5 701,532.3 708.6,528 716,530.5 722,527.3 736,526.5" fill="none" stroke="#a0a0a0" stroke-width="0.9" stroke-linejoin="round"/>
<polyline points="343,547.8 348.5,547.8 362.5,606 384.3,606 393,574.2 398.7,564.5 405.7,558 412.7,555.4 419.7,545.2 426.9,553.4 433.9,529.5 440.9,538.4 448,574.2 455,601.5 462,548.6 469,550.3 476,540 480,545.4 483.7,565.2 490,577.7 495.5,583.9 498.6,580 509.8,541.6 519.8,534.2 524.7,526.7 532.2,526.7 539.6,537.9 549.6,531.7 554.5,526.7 603,526.4 609,535 611.5,553.7 614.9,584.5 616.8,606 638.6,606 639.7,597.5 644.7,564 650.9,534.2 651.6,531.5 693.4,529.8 702,527.3 708.8,526.4 715.6,530.7 722.4,531.5 729.3,529.8 737.8,538.4 743.8,554.6 750.6,542.6 757.4,548.6" fill="none" stroke="#f0f0f0" stroke-width="1.05" stroke-linejoin="round"/>
</g>
<rect x="342.5" y="525.5" width="415" height="78" fill="none" stroke="#000" stroke-width="1" shape-rendering="crispEdges"/>
<g clip-path="url(#m1)">
<polygon points="135.5,111.5 245.5,111.5 245.5,134.5 135.5,134.5" fill="#87d3ff" />
<g clip-path="url(#night)">
<polygon points="135.5,111.5 245.5,111.5 245.5,134.5 135.5,134.5" fill="#7dbeee" />
</g></g>
<g clip-path="url(#m1)">
<polygon points="135.5,88 142,90 150,95 163,101 177,106 198,109 225,111 233,113 245.5,107 245.5,114.1 239.4,117 233,121 225.1,117.3 212.4,117 205.3,115.4 198.2,115.7 184.7,115.4 177.6,114.1 170.4,113 163.3,109.9 156.2,106.7 145.9,102 135.5,101.1" fill="#ffe9e0" opacity="0.95"/>
<polygon points="135.5,101.3 145.9,102.9 156.2,107.7 163.3,109.6 170.4,111.1 177.6,112.7 184.7,113.7 191.8,115.6 198.2,117.2 205.3,117.5 212.4,118.4 216.4,116.4 220,116.2 225.1,118.8 233,121.9 239.4,115.6 245.5,113.7 245.5,120 239,124 233,131 225,129 212,127.5 198,124 184.7,119 170,115 156,112 135.5,107" fill="#bfe6ff" opacity="0.9"/>
</g>
<g stroke="#000" stroke-width="1" stroke-dasharray="2,2" shape-rendering="crispEdges">
<line x1="142.5" y1="57.5" x2="142.5" y2="134.5"/>
<line x1="163.5" y1="57.5" x2="163.5" y2="134.5"/>
<line x1="184.5" y1="57.5" x2="184.5" y2="134.5"/>
<line x1="205.5" y1="57.5" x2="205.5" y2="134.5"/>
<line x1="226.5" y1="57.5" x2="226.5" y2="134.5"/>
<line x1="135.5" y1="59.5" x2="245.5" y2="59.5"/>
<line x1="135.5" y1="77.5" x2="245.5" y2="77.5"/>
<line x1="135.5" y1="94.5" x2="245.5" y2="94.5"/>
<line x1="135.5" y1="111.5" x2="245.5" y2="111.5"/>
<line x1="135.5" y1="129.5" x2="245.5" y2="129.5"/>
</g>
<g clip-path="url(#m1)">
<line x1="142.5" y1="69.8" x2="142.5" y2="75.4" stroke="#a81e1e" stroke-width="1" shape-rendering="crispEdges"/>
<line x1="149.5" y1="78.5" x2="149.5" y2="92.8" stroke="#a81e1e" stroke-width="1" shape-rendering="crispEdges"/>
<line x1="156.5" y1="87.3" x2="156.5" y2="99" stroke="#a81e1e" stroke-width="1" shape-rendering="crispEdges"/>
<line x1="163.5" y1="96.8" x2="163.5" y2="107" stroke="#a81e1e" stroke-width="1" shape-rendering="crispEdges"/>
<line x1="170.5" y1="101" x2="170.5" y2="114.2" stroke="#a81e1e" stroke-width="1" shape-rendering="crispEdges"/>
<line x1="177.5" y1="103" x2="177.5" y2="118.2" stroke="#a81e1e" stroke-width="1" shape-rendering="crispEdges"/>
<line x1="184.5" y1="105.5" x2="184.5" y2="120.5" stroke="#a81e1e" stroke-width="1" shape-rendering="crispEdges"/>
<line x1="191.5" y1="107" x2="191.5" y2="123.7" stroke="#a81e1e" stroke-width="1" shape-rendering="crispEdges"/>
<line x1="198.5" y1="108.3" x2="198.5" y2="125.8" stroke="#a81e1e" stroke-width="1" shape-rendering="crispEdges"/>
<line x1="205.5" y1="109" x2="205.5" y2="127.7" stroke="#a81e1e" stroke-width="1" shape-rendering="crispEdges"/>
<line x1="212.5" y1="109.5" x2="212.5" y2="129.3" stroke="#a81e1e" stroke-width="1" shape-rendering="crispEdges"/>
<line x1="219.5" y1="110.2" x2="219.5" y2="130" stroke="#a81e1e" stroke-width="1" shape-rendering="crispEdges"/>
<line x1="226.5" y1="111" x2="226.5" y2="132.4" stroke="#a81e1e" stroke-width="1" shape-rendering="crispEdges"/>
<line x1="233.5" y1="111" x2="233.5" y2="132.4" stroke="#a81e1e" stroke-width="1" shape-rendering="crispEdges"/>
<line x1="240.5" y1="106.3" x2="240.5" y2="119.8" stroke="#a81e1e" stroke-width="1" shape-rendering="crispEdges"/>
<polyline points="135.5,102.3 145.9,103.9 156.2,108.7 163.3,110.6 170.4,112.1 177.6,113.7 184.7,114.7 191.8,116.6 198.2,118.2 205.3,118.5 212.4,119.4 216.4,117.4 220,117.2 225.1,119.8 233,122.9 239.4,116.6 245.5,114.7" fill="none" stroke="#0000ff" stroke-width="2.3" stroke-linejoin="round"/>
<polyline points="135.5,99.1 145.9,100 156.2,104.7 163.3,107.9 170.4,111 177.6,112.1 184.7,113.4 198.2,113.7 205.3,113.4 212.4,115 225.1,115.3 233,119 239.4,115 245.5,112.1" fill="none" stroke="#ff0000" stroke-width="2.3" stroke-linejoin="round"/>
<rect x="141.3" y="112" width="2.8" height="2.8" fill="#7d5fd7" />
<rect x="148.1" y="112.3" width="2.8" height="2.8" fill="#7d5fd7" />
<rect x="155.1" y="113.6" width="2.8" height="2.8" fill="#7d5fd7" />
<rect x="162.1" y="113.6" width="2.8" height="2.8" fill="#7d5fd7" />
<rect x="169.1" y="113.1" width="2.8" height="2.8" fill="#7d5fd7" />
<rect x="176.1" y="113.6" width="2.8" height="2.8" fill="#7d5fd7" />
<rect x="183.1" y="114.6" width="2.8" height="2.8" fill="#7d5fd7" />
<rect x="190.1" y="116.1" width="2.8" height="2.8" fill="#7d5fd7" />
<rect x="197.1" y="117.6" width="2.8" height="2.8" fill="#7d5fd7" />
<rect x="204.1" y="118.1" width="2.8" height="2.8" fill="#7d5fd7" />
<rect x="211.1" y="118.6" width="2.8" height="2.8" fill="#7d5fd7" />
<rect x="218.2" y="118.4" width="2.8" height="2.8" fill="#7d5fd7" />
<rect x="225" y="119.1" width="2.8" height="2.8" fill="#7d5fd7" />
<rect x="232" y="120.6" width="2.8" height="2.8" fill="#7d5fd7" />
<rect x="239.1" y="117.6" width="2.8" height="2.8" fill="#7d5fd7" />
</g>
<rect x="135.5" y="57.5" width="110" height="77" fill="none" stroke="#000" stroke-width="1" shape-rendering="crispEdges"/>
<rect x="135.5" y="187" width="8" height="33.5" fill="#0aaa0a" shape-rendering="crispEdges"/>
<rect x="143.5" y="181" width="6.3" height="39.5" fill="#0aaa0a" shape-rendering="crispEdges"/>
<rect x="149.8" y="179" width="7.2" height="41.5" fill="#0aaa0a" shape-rendering="crispEdges"/>
<rect x="157" y="201.6" width="7" height="18.9" fill="#0aaa0a" shape-rendering="crispEdges"/>
<rect x="164" y="208" width="5.6" height="12.5" fill="#0aaa0a" shape-rendering="crispEdges"/>
<rect x="169.6" y="218.2" width="7.2" height="2.3" fill="#0aaa0a" shape-rendering="crispEdges"/>
<rect x="157" y="182" width="7" height="19.6" fill="#0a32c8" shape-rendering="crispEdges"/>
<rect x="164" y="205.2" width="5.6" height="2.8" fill="#0a32c8" shape-rendering="crispEdges"/>
<line x1="139.5" y1="165" x2="139.5" y2="220.5" stroke="#0aaa0a" stroke-width="1" shape-rendering="crispEdges"/>
<line x1="146.5" y1="149.3" x2="146.5" y2="220.5" stroke="#0aaa0a" stroke-width="1" shape-rendering="crispEdges"/>
<line x1="153.5" y1="149.3" x2="153.5" y2="220.5" stroke="#0aaa0a" stroke-width="1" shape-rendering="crispEdges"/>
<line x1="160.5" y1="171.5" x2="160.5" y2="182" stroke="#0a32c8" stroke-width="1" shape-rendering="crispEdges"/>
<g stroke="#000" stroke-width="1" stroke-dasharray="2,2" shape-rendering="crispEdges">
<line x1="142.5" y1="143.5" x2="142.5" y2="220.5"/>
<line x1="163.5" y1="143.5" x2="163.5" y2="220.5"/>
<line x1="184.5" y1="143.5" x2="184.5" y2="220.5"/>
<line x1="205.5" y1="143.5" x2="205.5" y2="220.5"/>
<line x1="226.5" y1="143.5" x2="226.5" y2="220.5"/>
<line x1="135.5" y1="150.5" x2="245.5" y2="150.5"/>
<line x1="135.5" y1="168.5" x2="245.5" y2="168.5"/>
<line x1="135.5" y1="185.5" x2="245.5" y2="185.5"/>
<line x1="135.5" y1="203.5" x2="245.5" y2="203.5"/>
</g>
<rect x="145.1" y="146" width="3" height="3" fill="#ff0000" />
<rect x="152" y="146" width="3" height="3" fill="#ff0000" />
<rect x="137.8" y="219" width="3.4" height="1.5" fill="#dc1414" />
<rect x="144.8" y="219" width="3.4" height="1.5" fill="#dc1414" />
<rect x="151.8" y="219" width="3.4" height="1.5" fill="#dc1414" />
<rect x="158.8" y="219" width="3.4" height="1.5" fill="#dc1414" />
<polyline points="136.3,172.3 143.5,167.5 149.8,158.8 157,155.3 164,153.2 184.7,152.8 191,149.3 198.2,149.3 204.5,154.8 212.4,155.9 218.8,152.4 225.6,149.6 233,151.6 239.4,157.2 245.5,164.3" fill="none" stroke="#e64614" stroke-width="2.2" stroke-linejoin="round"/>
<circle cx="139.5" cy="173.4" r="2.4" fill="#ffe600" stroke="#000" stroke-width="1"/>
<circle cx="146.3" cy="173.4" r="2.4" fill="#ffa000" stroke="#000" stroke-width="1"/>
<circle cx="153.5" cy="173.4" r="2.4" fill="#ff0000" stroke="#000" stroke-width="1"/>
<rect x="135.5" y="143.5" width="110" height="77" fill="none" stroke="#000" stroke-width="1" shape-rendering="crispEdges"/>
<polygon points="135.5,260.4 143.5,260 149.8,252.9 157,249 164,248.6 170.4,245.5 177.6,248.6 184.7,250.9 191.8,253.7 204.5,254 225.6,254.2 233,257.7 239.4,261.3 245.5,264.8 245.5,306.5 135.5,306.5" fill="#ffff00" />
<polygon points="135.5,260.4 143.5,260 149.8,252.9 157,249 164,248.6 170.4,245.5 177.6,248.6 184.7,250.9 191.8,253.7 204.5,254 225.6,254.2 233,257.7 239.4,261.3 245.5,264.8 245.5,306.5 135.5,306.5" fill="#ffd700" clip-path="url(#mpc)"/>
<g stroke="#000" stroke-width="1" stroke-dasharray="2,2" shape-rendering="crispEdges">
<line x1="142.5" y1="229.5" x2="142.5" y2="306.5"/>
<line x1="163.5" y1="229.5" x2="163.5" y2="306.5"/>
<line x1="184.5" y1="229.5" x2="184.5" y2="306.5"/>
<line x1="205.5" y1="229.5" x2="205.5" y2="306.5"/>
<line x1="226.5" y1="229.5" x2="226.5" y2="306.5"/>
<line x1="135.5" y1="231.5" x2="245.5" y2="231.5"/>
<line x1="135.5" y1="254.5" x2="245.5" y2="254.5"/>
<line x1="135.5" y1="278.5" x2="245.5" y2="278.5"/>
<line x1="135.5" y1="301.5" x2="245.5" y2="301.5"/>
</g>
<polyline points="135.5,260.4 143.5,260 149.8,252.9 157,249 164,248.6 170.4,245.5 177.6,248.6 184.7,250.9 191.8,253.7 204.5,254 225.6,254.2 233,257.7 239.4,261.3 245.5,264.8" fill="none" stroke="#000" stroke-width="2.4" stroke-linejoin="round"/>
<rect x="135.5" y="229.5" width="110" height="77" fill="none" stroke="#000" stroke-width="1" shape-rendering="crispEdges"/>
<polygon points="135.5,364.3 139.5,367.4 143.5,369 149.8,371.4 164,373 170.4,374.6 177.6,375.9 184.7,375.4 191.8,373.8 198.2,372.7 225.6,372.7 233,371.1 239.4,369.8 245.5,369.8 245.5,392.5 135.5,392.5" fill="#14d214" clip-path="url(#mw0)" shape-rendering="crispEdges"/>
<polygon points="135.5,364.3 139.5,367.4 143.5,369 149.8,371.4 164,373 170.4,374.6 177.6,375.9 184.7,375.4 191.8,373.8 198.2,372.7 225.6,372.7 233,371.1 239.4,369.8 245.5,369.8 245.5,392.5 135.5,392.5" fill="#007800" clip-path="url(#mw1)" shape-rendering="crispEdges"/>
<polygon points="135.5,364.3 139.5,367.4 143.5,369 149.8,371.4 164,373 170.4,374.6 177.6,375.9 184.7,375.4 191.8,373.8 198.2,372.7 225.6,372.7 233,371.1 239.4,369.8 245.5,369.8 245.5,392.5 135.5,392.5" fill="#004b96" clip-path="url(#mw2)" shape-rendering="crispEdges"/>
<polygon points="135.5,364.3 139.5,367.4 143.5,369 149.8,371.4 164,373 170.4,374.6 177.6,375.9 184.7,375.4 191.8,373.8 198.2,372.7 225.6,372.7 233,371.1 239.4,369.8 245.5,369.8 245.5,392.5 135.5,392.5" fill="#007800" clip-path="url(#mw3)" shape-rendering="crispEdges"/>
<polygon points="135.5,364.3 139.5,367.4 143.5,369 149.8,371.4 164,373 170.4,374.6 177.6,375.9 184.7,375.4 191.8,373.8 198.2,372.7 225.6,372.7 233,371.1 239.4,369.8 245.5,369.8 245.5,392.5 135.5,392.5" fill="#004b96" clip-path="url(#mw4)" shape-rendering="crispEdges"/>
<polygon points="135.5,364.3 139.5,367.4 143.5,369 149.8,371.4 164,373 170.4,374.6 177.6,375.9 184.7,375.4 191.8,373.8 198.2,372.7 225.6,372.7 233,371.1 239.4,369.8 245.5,369.8 245.5,392.5 135.5,392.5" fill="#007800" clip-path="url(#mw5)" shape-rendering="crispEdges"/>
<polygon points="135.5,364.3 139.5,367.4 143.5,369 149.8,371.4 164,373 170.4,374.6 177.6,375.9 184.7,375.4 191.8,373.8 198.2,372.7 225.6,372.7 233,371.1 239.4,369.8 245.5,369.8 245.5,392.5 135.5,392.5" fill="#14d214" clip-path="url(#mw6)" shape-rendering="crispEdges"/>
<g stroke="#000" stroke-width="1" stroke-dasharray="2,2" shape-rendering="crispEdges">
<line x1="142.5" y1="315.5" x2="142.5" y2="392.5"/>
<line x1="163.5" y1="315.5" x2="163.5" y2="392.5"/>
<line x1="184.5" y1="315.5" x2="184.5" y2="392.5"/>
<line x1="205.5" y1="315.5" x2="205.5" y2="392.5"/>
<line x1="226.5" y1="315.5" x2="226.5" y2="392.5"/>
<line x1="135.5" y1="334.5" x2="245.5" y2="334.5"/>
<line x1="135.5" y1="354.5" x2="245.5" y2="354.5"/>
<line x1="135.5" y1="373.5" x2="245.5" y2="373.5"/>
</g>
<polyline points="135.5,364.3 139.5,367.4 143.5,369 149.8,371.4 164,373 170.4,374.6 177.6,375.9 184.7,375.4 191.8,373.8 198.2,372.7 225.6,372.7 233,371.1 239.4,369.8 245.5,369.8" fill="none" stroke="#0a0aa0" stroke-width="2.6" stroke-linejoin="round"/>
<line x1="141.9" y1="340.5" x2="149" y2="340.5" stroke="#ff0000" stroke-width="1" shape-rendering="crispEdges"/>
<line x1="148.2" y1="347.5" x2="155.4" y2="347.5" stroke="#ff0000" stroke-width="1" shape-rendering="crispEdges"/>
<line x1="155.4" y1="348.5" x2="161.7" y2="348.5" stroke="#ff0000" stroke-width="1" shape-rendering="crispEdges"/>
<line x1="161.7" y1="351.5" x2="169.6" y2="351.5" stroke="#ff0000" stroke-width="1" shape-rendering="crispEdges"/>
<line x1="169.6" y1="355.5" x2="176.8" y2="355.5" stroke="#ff0000" stroke-width="1" shape-rendering="crispEdges"/>
<line x1="176" y1="358.5" x2="184.7" y2="358.5" stroke="#ff0000" stroke-width="1" shape-rendering="crispEdges"/>
<line x1="184" y1="354.5" x2="189.4" y2="354.5" stroke="#ff0000" stroke-width="1" shape-rendering="crispEdges"/>
<line x1="190.2" y1="351.5" x2="197.4" y2="351.5" stroke="#ff0000" stroke-width="1" shape-rendering="crispEdges"/>
<line x1="197.4" y1="350.5" x2="210.9" y2="350.5" stroke="#ff0000" stroke-width="1" shape-rendering="crispEdges"/>
<line x1="210.9" y1="351.5" x2="225.1" y2="351.5" stroke="#ff0000" stroke-width="1" shape-rendering="crispEdges"/>
<line x1="225.1" y1="347.5" x2="232.7" y2="347.5" stroke="#ff0000" stroke-width="1" shape-rendering="crispEdges"/>
<line x1="232.3" y1="343.5" x2="239.4" y2="343.5" stroke="#ff0000" stroke-width="1" shape-rendering="crispEdges"/>
<line x1="239.4" y1="342.5" x2="245.5" y2="342.5" stroke="#ff0000" stroke-width="1" shape-rendering="crispEdges"/>
<circle cx="138.2" cy="317.8" r="1.6" fill="#ff0000" />
<rect x="135.5" y="315.5" width="110" height="77" fill="none" stroke="#000" stroke-width="1" shape-rendering="crispEdges"/>
<g stroke="#000" stroke-width="1" stroke-dasharray="2,2" shape-rendering="crispEdges">
<line x1="142.5" y1="398.5" x2="142.5" y2="430.5"/>
<line x1="163.5" y1="398.5" x2="163.5" y2="430.5"/>
<line x1="184.5" y1="398.5" x2="184.5" y2="430.5"/>
<line x1="205.5" y1="398.5" x2="205.5" y2="430.5"/>
<line x1="226.5" y1="398.5" x2="226.5" y2="430.5"/>
</g>
<line x1="134.32" y1="406.44" x2="139.58" y2="420.49" stroke="#0a0aa0" stroke-width="1.3" />
<polygon points="140.28,422.36 135.32,418.24 141.31,416" fill="#0a0aa0" />
<line x1="139.92" y1="406.44" x2="145.18" y2="420.49" stroke="#0a0aa0" stroke-width="1.3" />
<polygon points="145.88,422.36 140.92,418.24 146.91,416" fill="#0a0aa0" />
<line x1="146.94" y1="406.44" x2="152.2" y2="420.49" stroke="#0a0aa0" stroke-width="1.3" />
<polygon points="152.9,422.36 147.94,418.24 153.93,416" fill="#0a0aa0" />
<line x1="153.96" y1="406.44" x2="159.22" y2="420.49" stroke="#0a0aa0" stroke-width="1.3" />
<polygon points="159.92,422.36 154.96,418.24 160.95,416" fill="#0a0aa0" />
<line x1="160.98" y1="406.44" x2="166.24" y2="420.49" stroke="#0a0aa0" stroke-width="1.3" />
<polygon points="166.94,422.36 161.98,418.24 167.97,416" fill="#0a0aa0" />
<line x1="168" y1="406.44" x2="173.26" y2="420.49" stroke="#0a0aa0" stroke-width="1.3" />
<polygon points="173.96,422.36 169,418.24 174.99,416" fill="#0a0aa0" />
<line x1="175.02" y1="406.44" x2="180.28" y2="420.49" stroke="#0a0aa0" stroke-width="1.3" />
<polygon points="180.98,422.36 176.02,418.24 182.01,416" fill="#0a0aa0" />
<line x1="182.04" y1="406.44" x2="187.3" y2="420.49" stroke="#0a0aa0" stroke-width="1.3" />
<polygon points="188,422.36 183.04,418.24 189.03,416" fill="#0a0aa0" />
<line x1="189.06" y1="406.44" x2="194.32" y2="420.49" stroke="#0a0aa0" stroke-width="1.3" />
<polygon points="195.02,422.36 190.06,418.24 196.05,416" fill="#0a0aa0" />
<line x1="196.08" y1="406.44" x2="201.34" y2="420.49" stroke="#0a0aa0" stroke-width="1.3" />
<polygon points="202.04,422.36 197.08,418.24 203.07,416" fill="#0a0aa0" />
<line x1="203.1" y1="406.44" x2="208.36" y2="420.49" stroke="#0a0aa0" stroke-width="1.3" />
<polygon points="209.06,422.36 204.1,418.24 210.09,416" fill="#0a0aa0" />
<line x1="210.12" y1="406.44" x2="215.38" y2="420.49" stroke="#0a0aa0" stroke-width="1.3" />
<polygon points="216.08,422.36 211.12,418.24 217.11,416" fill="#0a0aa0" />
<line x1="217.14" y1="406.44" x2="222.4" y2="420.49" stroke="#0a0aa0" stroke-width="1.3" />
<polygon points="223.1,422.36 218.14,418.24 224.13,416" fill="#0a0aa0" />
<line x1="224.16" y1="406.44" x2="229.42" y2="420.49" stroke="#0a0aa0" stroke-width="1.3" />
<polygon points="230.12,422.36 225.16,418.24 231.15,416" fill="#0a0aa0" />
<line x1="231.18" y1="406.44" x2="236.44" y2="420.49" stroke="#0a0aa0" stroke-width="1.3" />
<polygon points="237.14,422.36 232.18,418.24 238.17,416" fill="#0a0aa0" />
<line x1="238.2" y1="406.44" x2="243.46" y2="420.49" stroke="#0a0aa0" stroke-width="1.3" />
<polygon points="244.16,422.36 239.2,418.24 245.19,416" fill="#0a0aa0" />
<line x1="245.22" y1="406.44" x2="250.48" y2="420.49" stroke="#0a0aa0" stroke-width="1.3" />
<polygon points="251.18,422.36 246.22,418.24 252.21,416" fill="#0a0aa0" />
<rect x="135.5" y="398.5" width="110" height="32" fill="none" stroke="#000" stroke-width="1" shape-rendering="crispEdges"/>
<g clip-path="url(#m6)">
<polygon points="135.5,436.5 245.5,436.5 245.5,514.5 135.5,514.5" fill="#87d3ff" />
<g clip-path="url(#night)">
<polygon points="135.5,436.5 245.5,436.5 245.5,514.5 135.5,514.5" fill="#7dbeee" />
</g></g>
<g clip-path="url(#m6)">
<circle cx="170.4" cy="492.6" r="2.7" fill="#fff" />
<circle cx="177.6" cy="492.6" r="2.7" fill="#fff" />
<circle cx="198.2" cy="492.6" r="2.7" fill="#fff" />
<circle cx="204.5" cy="492.6" r="2.7" fill="#fff" />
<circle cx="211.5" cy="492.6" r="2.7" fill="#fff" />
<circle cx="150.3" cy="499.8" r="2.7" fill="#fff" />
<circle cx="164.4" cy="499.3" r="2.7" fill="#fff" />
<circle cx="191.5" cy="500.2" r="2.7" fill="#fff" />
<circle cx="143.5" cy="505.8" r="2.7" fill="#fff" />
<circle cx="184.4" cy="509.3" r="2.7" fill="#fff" />
<circle cx="218.5" cy="509.3" r="2.7" fill="#fff" />
<circle cx="225.4" cy="509.3" r="2.7" fill="#fff" />
<circle cx="232.4" cy="509.3" r="2.7" fill="#fff" />
<circle cx="239.4" cy="509.3" r="2.7" fill="#fff" />
<circle cx="245" cy="499.8" r="2.7" fill="#fff" />
<circle cx="170.4" cy="489.4" r="2.7" fill="#ccc" />
<circle cx="198.2" cy="490" r="2.7" fill="#ccc" />
<circle cx="211.5" cy="490" r="2.7" fill="#ccc" />
<circle cx="218.5" cy="499.8" r="2.7" fill="#ccc" />
<circle cx="225.4" cy="499.8" r="2.7" fill="#ccc" />
<circle cx="239.4" cy="499.8" r="2.7" fill="#ccc" />
<circle cx="136.3" cy="505.3" r="2.7" fill="#ccc" />
<circle cx="177.6" cy="489.4" r="2.7" fill="#999" />
<circle cx="198.2" cy="485.5" r="2.7" fill="#999" />
<circle cx="211.5" cy="485.5" r="2.7" fill="#999" />
<circle cx="239.4" cy="493.9" r="2.7" fill="#999" />
<circle cx="143.5" cy="500.5" r="2.7" fill="#999" />
<circle cx="232.4" cy="499.8" r="2.7" fill="#999" />
<circle cx="184.4" cy="503.7" r="2.7" fill="#999" />
<circle cx="245" cy="481" r="2.7" fill="#999" />
<circle cx="143.5" cy="481" r="2.7" fill="#555" />
<circle cx="150.3" cy="492.6" r="2.7" fill="#555" />
<circle cx="157.3" cy="492.6" r="2.7" fill="#555" />
<circle cx="164.4" cy="492.6" r="2.7" fill="#555" />
<circle cx="191.5" cy="489.4" r="2.7" fill="#555" />
<circle cx="211.5" cy="481" r="2.7" fill="#555" />
<circle cx="218.5" cy="489.4" r="2.7" fill="#555" />
<circle cx="225.4" cy="492.6" r="2.7" fill="#555" />
<circle cx="232.4" cy="493.9" r="2.7" fill="#555" />
<circle cx="184.4" cy="499.8" r="2.7" fill="#555" />
<circle cx="198.2" cy="468" r="2.7" fill="#555" />
<circle cx="191.5" cy="456.5" r="2.7" fill="#000" />
<circle cx="198.2" cy="464.1" r="2.7" fill="#000" />
<circle cx="204.5" cy="468" r="2.7" fill="#000" />
<circle cx="211.5" cy="470" r="2.7" fill="#000" />
<circle cx="218.5" cy="481" r="2.7" fill="#000" />
<circle cx="225.4" cy="485.5" r="2.7" fill="#000" />
<circle cx="232.4" cy="489.4" r="2.7" fill="#000" />
<circle cx="239.4" cy="481" r="2.7" fill="#000" />
<circle cx="245" cy="476.8" r="2.7" fill="#000" />
<circle cx="184.4" cy="489.4" r="2.7" fill="#000" />
<circle cx="136.3" cy="476" r="2.7" fill="#b01e1e" />
<circle cx="143.5" cy="476" r="2.7" fill="#b01e1e" />
<circle cx="150.3" cy="458.9" r="2.7" fill="#b01e1e" />
<circle cx="157.3" cy="458.9" r="2.7" fill="#b01e1e" />
<circle cx="164.4" cy="460" r="2.7" fill="#b01e1e" />
<circle cx="170.4" cy="451" r="2.7" fill="#b01e1e" />
<circle cx="177.6" cy="449.5" r="2.7" fill="#b01e1e" />
<circle cx="184.4" cy="449.5" r="2.7" fill="#b01e1e" />
<circle cx="191.5" cy="449.5" r="2.7" fill="#b01e1e" />
<circle cx="198.2" cy="451.4" r="2.7" fill="#b01e1e" />
<circle cx="204.5" cy="449.5" r="2.7" fill="#b01e1e" />
<circle cx="211.5" cy="449.5" r="2.7" fill="#b01e1e" />
<circle cx="218.5" cy="449.5" r="2.7" fill="#b01e1e" />
<circle cx="225.4" cy="449.5" r="2.7" fill="#b01e1e" />
<circle cx="232.4" cy="449.5" r="2.7" fill="#b01e1e" />
<circle cx="239.4" cy="449.5" r="2.7" fill="#b01e1e" />
<circle cx="245.3" cy="449.5" r="2.7" fill="#b01e1e" />
</g>
<g stroke="#000" stroke-width="1" stroke-dasharray="2,2" shape-rendering="crispEdges">
<line x1="142.5" y1="436.5" x2="142.5" y2="514.5"/>
<line x1="163.5" y1="436.5" x2="163.5" y2="514.5"/>
<line x1="184.5" y1="436.5" x2="184.5" y2="514.5"/>
<line x1="205.5" y1="436.5" x2="205.5" y2="514.5"/>
<line x1="226.5" y1="436.5" x2="226.5" y2="514.5"/>
<line x1="135.5" y1="456.5" x2="245.5" y2="456.5"/>
<line x1="135.5" y1="475.5" x2="245.5" y2="475.5"/>
<line x1="135.5" y1="495.5" x2="245.5" y2="495.5"/>
</g>
<polyline points="135.5,471.2 143.5,470.9 149.8,466.5 157,464.6 177.6,463.6 184.7,467.3 191.8,470.4 204.5,471.5 212.4,473.6 218.8,474.9 225.6,474.9 233,473.6 239.4,471.2 245.5,470" fill="none" stroke="#ff9600" stroke-width="2.2" stroke-linejoin="round"/>
<rect x="135.5" y="436.5" width="110" height="78" fill="none" stroke="#000" stroke-width="1" shape-rendering="crispEdges"/>
<g clip-path="url(#m7)">
<polygon points="135.5,523.5 245.5,523.5 245.5,601.5 135.5,601.5" fill="#87d3ff" />
<g clip-path="url(#night)">
<polygon points="135.5,523.5 245.5,523.5 245.5,601.5 135.5,601.5" fill="#7dbeee" />
</g></g>
<g clip-path="url(#m7)">
<polygon points="168,588.7 169.6,576.8 176,565.7 184.7,562.6 190.2,549.9 196.6,543.5 207.7,535.6 212.4,526.1 218.8,523.5 246,523.5 246,602 177.6,602 177.6,592.7" fill="#fff" />
<polygon points="197.4,530.9 204.5,532.4 209.3,529.3 212.4,526.9 218.8,525 233,523.5 246,523.5 246,602 192.6,602 192.6,573.7 193.4,546.7" fill="#999" />
<polygon points="135.5,576.8 143.5,564.1 149.8,576.8 157,583.2 164,586.3 168,588.7 177.6,592.7 184.7,568.9 191.8,569.7 193.4,574.4 198.2,583.2 204.5,595 212.4,584.8 217.2,546.7 225.1,534.8 233,538.8 239.4,551.5 246,567.3 246,602 135.5,602" fill="#555" />
<polygon points="135.5,602 135.5,589 143.5,597.5 149.8,590.8 157,595 165,602" fill="#2d2d2d" />
<rect x="216.9" y="590.3" width="3.2" height="11.2" fill="#ffb400" />
<rect x="223.8" y="590.3" width="3.2" height="11.2" fill="#ffb400" />
<rect x="230.8" y="590.3" width="3.2" height="11.2" fill="#ffb400" />
<rect x="237.8" y="590.3" width="3.2" height="11.2" fill="#ffb400" />
</g>
<g stroke="#000" stroke-width="1" stroke-dasharray="2,2" shape-rendering="crispEdges">
<line x1="142.5" y1="523.5" x2="142.5" y2="601.5"/>
<line x1="163.5" y1="523.5" x2="163.5" y2="601.5"/>
<line x1="184.5" y1="523.5" x2="184.5" y2="601.5"/>
<line x1="205.5" y1="523.5" x2="205.5" y2="601.5"/>
<line x1="226.5" y1="523.5" x2="226.5" y2="601.5"/>
<line x1="135.5" y1="543.5" x2="245.5" y2="543.5"/>
<line x1="135.5" y1="562.5" x2="245.5" y2="562.5"/>
<line x1="135.5" y1="582.5" x2="245.5" y2="582.5"/>
</g>
<g clip-path="url(#m7)">
<polyline points="135.5,589.5 143.5,596.6 149.8,600.6 157,602" fill="none" stroke="#e6e6e6" stroke-width="1" />
<polyline points="164,601.4 166.5,589.5" fill="none" stroke="#e6e6e6" stroke-width="1" />
<polyline points="184.7,600.6 190.2,583.2 193.4,574.4" fill="none" stroke="#c8c8c8" stroke-width="1" />
<polyline points="193.4,574.4 206,538.8 212.4,526.9 218.8,524.5 233,524.5 239.4,535.6 245.5,543.5" fill="none" stroke="#f0f0f0" stroke-width="1.2" />
</g>
<rect x="135.5" y="523.5" width="110" height="78" fill="none" stroke="#000" stroke-width="1" shape-rendering="crispEdges"/>
<polyline points="68.1,14.5 130,14.5 156,47" fill="none" stroke="#000" stroke-width="1" />
<polyline points="102.2,43.5 119,43.5 149.3,83.5" fill="none" stroke="#a52a2a" stroke-width="1" />
<polyline points="92.4,76.5 116,76.5" fill="none" stroke="#ff0000" stroke-width="1" />
<polyline points="131,76.2 134,76.5 156.2,103" fill="none" stroke="#ff0000" stroke-width="1" />
<polyline points="70.3,98.5 131,98.5 136,101.5" fill="none" stroke="#0000ff" stroke-width="1" />
<polyline points="95.3,120.5 131,120.5 142.7,113.4" fill="none" stroke="#6e5ad2" stroke-width="1" />
<polyline points="103.3,137.5 141,137.5 146.6,147" fill="none" stroke="#ff0000" stroke-width="1" />
<polyline points="106.2,150.5 111.8,150.5" fill="none" stroke="#e64614" stroke-width="1" />
<polyline points="129.5,150.6 131,151 149,160.3" fill="none" stroke="#e64614" stroke-width="1" />
<polyline points="94.2,166.5 112.7,166.5" fill="none" stroke="#000" stroke-width="1" />
<polyline points="129.2,166.5 131,166.8 136.3,171.5" fill="none" stroke="#000" stroke-width="1" />
<polyline points="71.4,179.5 139.5,179.5" fill="none" stroke="#00aa00" stroke-width="1" />
<polyline points="80.2,190.5 135.7,190.5" fill="none" stroke="#00aa00" stroke-width="1" />
<polyline points="70.3,202.5 111.8,202.5" fill="none" stroke="#0a32c8" stroke-width="1" />
<polyline points="129.8,202.5 131,202.5 160.4,172" fill="none" stroke="#0a32c8" stroke-width="1" />
<polyline points="81.6,213.5 131.5,213.5 157,189" fill="none" stroke="#0a32c8" stroke-width="1" />
<polyline points="97.3,225.5 143,225.5 148,220.5" fill="none" stroke="#ff0000" stroke-width="1" />
<polyline points="51.2,264.5 131.5,264.5 136.6,262.3" fill="none" stroke="#000" stroke-width="1" />
<polyline points="111.8,334.5 117.8,334.5" fill="none" stroke="#ff0000" stroke-width="1" />
<polyline points="130,334.5 131,334 137.8,318.5" fill="none" stroke="#ff0000" stroke-width="1" />
<polyline points="107.2,348.5 130,348.5 143.5,340.5" fill="none" stroke="#ff0000" stroke-width="1" />
<polyline points="92,368.5 135.5,368.5" fill="none" stroke="#0a0aa0" stroke-width="1" />
<polyline points="86.2,410.5 139.5,410.5" fill="none" stroke="#0a0aa0" stroke-width="1" />
<polyline points="100.2,430.3 133.2,430.9 183.9,446.6" fill="none" stroke="#a52a2a" stroke-width="1" />
<polyline points="57.2,468.5 133.2,468.5 191.5,456.5" fill="none" stroke="#000" stroke-width="1" />
<polyline points="57.2,479.5 112,479.5" fill="none" stroke="#555" stroke-width="1" />
<polyline points="129,479.9 131,480.5 143.5,481" fill="none" stroke="#555" stroke-width="1" />
<polyline points="56.9,490.5 132.3,490.5 143.5,500.5" fill="none" stroke="#999" stroke-width="1" />
<polyline points="56.9,500.5 132.3,500.5 136.6,504.8" fill="none" stroke="#ccc" stroke-width="1" />
<line x1="56.9" y1="509.5" x2="135.5" y2="509.5" stroke="#87d3ff" stroke-width="1" />
<line x1="56.9" y1="511.5" x2="135.5" y2="511.5" stroke="#87d3ff" stroke-width="1" />
<polyline points="67.4,527.5 128.9,527.5 140,513.3 173.6,464.9" fill="none" stroke="#ff9600" stroke-width="1" />
<line x1="53.8" y1="556.5" x2="184.7" y2="556.5" stroke="#87d3ff" stroke-width="1" />
<line x1="53.8" y1="557.5" x2="184.7" y2="557.5" stroke="#ffffff" stroke-width="1" />
<line x1="53.8" y1="558.5" x2="184.7" y2="558.5" stroke="#87d3ff" stroke-width="1" />
<polyline points="49.2,571.6 191.8,570.8" fill="none" stroke="#888" stroke-width="1" />
<polyline points="40.1,582.5 122,582.5" fill="none" stroke="#555" stroke-width="1" />
<polyline points="130,582.5 135.5,582.5" fill="none" stroke="#555" stroke-width="1" />
<polyline points="74.3,594.5 143.5,595" fill="none" stroke="#333" stroke-width="1" />
<polyline points="29.9,605.5 217.2,605.5 218.8,601.4" fill="none" stroke="#ffb400" stroke-width="1" />
<polyline points="139,622.5 146,620.5 156,611" fill="none" stroke="#000" stroke-width="1" />
<text x="355" y="12.73" fill="#0a0aa0" text-anchor="middle" font-size="12.3" >wschód słońca: 07:38 CET</text>
<text x="354.5" y="26.13" fill="#0a0aa0" text-anchor="middle" font-size="12.3" >zachód słońca: 15:13 CET</text>
<text x="551" y="12.73" fill="#0a0aa0" text-anchor="middle" font-size="12.3" >21°28'30"E, 53°53'34"N</text>
<text x="551" y="26.13" fill="#0a0aa0" text-anchor="middle" font-size="12.3" >(x=257, y=358)</text>
<text x="738.8" y="12.73" fill="#0a0aa0" text-anchor="middle" font-size="12.3" >wysokość (min, środek, max)</text>
<text x="738.5" y="26.18" fill="#0a0aa0" text-anchor="middle" font-size="12.45" >128 - 151 - 178 m</text>
<text x="318.7" y="54.68" fill="#000" text-anchor="middle" font-size="13" >CET</text>
<text x="781.5" y="54.68" fill="#000" text-anchor="middle" font-size="13" >CET</text>
<text x="318.3" y="616.68" fill="#000" text-anchor="middle" font-size="13" >UTC</text>
<text x="781.3" y="616.68" fill="#000" text-anchor="middle" font-size="13" >UTC</text>
<text x="356.7" y="54.68" fill="#000" text-anchor="middle" font-size="13" >22</text>
<text x="398.9" y="54.68" fill="#000" text-anchor="middle" font-size="13" >04</text>
<text x="441.1" y="54.68" fill="#000" text-anchor="middle" font-size="13" >10</text>
<text x="483.3" y="54.68" fill="#000" text-anchor="middle" font-size="13" >16</text>
<text x="525.5" y="54.68" fill="#000" text-anchor="middle" font-size="13" >22</text>
<text x="567.7" y="54.68" fill="#000" text-anchor="middle" font-size="13" >04</text>
<text x="609.9" y="54.68" fill="#000" text-anchor="middle" font-size="13" >10</text>
<text x="652.1" y="54.68" fill="#000" text-anchor="middle" font-size="13" >16</text>
<text x="694.3" y="54.68" fill="#000" text-anchor="middle" font-size="13" >22</text>
<text x="736.5" y="54.68" fill="#000" text-anchor="middle" font-size="13" >04</text>
<text x="356.7" y="616.68" fill="#000" text-anchor="middle" font-size="13" >21</text>
<text x="398.9" y="616.68" fill="#000" text-anchor="middle" font-size="13" >03</text>
<text x="441.1" y="616.68" fill="#000" text-anchor="middle" font-size="13" >09</text>
<text x="483.3" y="616.68" fill="#000" text-anchor="middle" font-size="13" >15</text>
<text x="525.5" y="616.68" fill="#000" text-anchor="middle" font-size="13" >21</text>
<text x="567.7" y="616.68" fill="#000" text-anchor="middle" font-size="13" >03</text>
<text x="609.9" y="616.68" fill="#000" text-anchor="middle" font-size="13" >09</text>
<text x="652.1" y="616.68" fill="#000" text-anchor="middle" font-size="13" >15</text>
<text x="694.3" y="616.68" fill="#000" text-anchor="middle" font-size="13" >21</text>
<text x="736.5" y="616.68" fill="#000" text-anchor="middle" font-size="13" >03</text>
<text x="462.6" y="42.34" fill="#000" text-anchor="middle" font-size="12.9" >pon, 08.12</text>
<text x="630.6" y="42.34" fill="#000" text-anchor="middle" font-size="12.9" >wto, 09.12</text>
<text x="462" y="629.28" fill="#000" text-anchor="middle" font-size="13" >08.12</text>
<text x="630.7" y="629.28" fill="#000" text-anchor="middle" font-size="13" >09.12</text>
<text x="354.5" y="653.42" fill="#0a0aa0" text-anchor="middle" font-size="13.1" >meteo@icm.edu.pl</text>
<text x="679.3" y="653.42" fill="#0a0aa0" text-anchor="middle" font-size="13.1" >© 2007-2025 ICM, Uniwersytet Warszawski</text>
<text x="337.8" y="86.46" fill="#000" text-anchor="end" font-size="11" >5</text>
<text x="337.8" y="117.46" fill="#000" text-anchor="end" font-size="11" >0</text>
<text x="337.8" y="150.46" fill="#000" text-anchor="end" font-size="11" >5</text>
<text x="337.8" y="165.46" fill="#000" text-anchor="end" font-size="11" >4</text>
<text x="337.8" y="180.46" fill="#000" text-anchor="end" font-size="11" >3</text>
<text x="337.8" y="195.46" fill="#000" text-anchor="end" font-size="11" >2</text>
<text x="337.8" y="210.46" fill="#000" text-anchor="end" font-size="11" >1</text>
<text x="337.8" y="225.96" fill="#000" text-anchor="end" font-size="11" >0</text>
<text x="337.8" y="251.46" fill="#000" text-anchor="end" font-size="11" >1015</text>
<text x="337.8" y="271.46" fill="#000" text-anchor="end" font-size="11" >1010</text>
<text x="337.8" y="291.46" fill="#000" text-anchor="end" font-size="11" >1005</text>
<text x="337.8" y="312.46" fill="#000" text-anchor="end" font-size="11" >1000</text>
<text x="337.8" y="322.76" fill="#000" text-anchor="end" font-size="11" >15</text>
<text x="337.8" y="348.46" fill="#000" text-anchor="end" font-size="11" >10</text>
<text x="337.8" y="373.46" fill="#000" text-anchor="end" font-size="11" >5</text>
<text x="337.8" y="399.46" fill="#000" text-anchor="end" font-size="11" >0</text>
<text x="337.8" y="442.46" fill="#000" text-anchor="end" font-size="11" >15.0</text>
<text x="337.8" y="461.96" fill="#000" text-anchor="end" font-size="11" >7.0</text>
<text x="337.8" y="480.96" fill="#000" text-anchor="end" font-size="11" >2.0</text>
<text x="337.8" y="500.46" fill="#000" text-anchor="end" font-size="11" >0.5</text>
<text x="337.8" y="519.76" fill="#000" text-anchor="end" font-size="11" >0.0</text>
<text x="337.8" y="530.46" fill="#000" text-anchor="end" font-size="11" >8</text>
<text x="337.8" y="549.46" fill="#000" text-anchor="end" font-size="11" >6</text>
<text x="337.8" y="568.46" fill="#000" text-anchor="end" font-size="11" >4</text>
<text x="337.8" y="588.46" fill="#000" text-anchor="end" font-size="11" >2</text>
<text x="337.8" y="607.46" fill="#000" text-anchor="end" font-size="11" >0</text>
<text x="761.2" y="86.96" fill="#000" text-anchor="start" font-size="11" xml:space="preserve"> 5</text>
<text x="761.2" y="117.46" fill="#000" text-anchor="start" font-size="11" xml:space="preserve"> 0</text>
<text x="761.2" y="150.96" fill="#e64614" text-anchor="start" font-size="11" xml:space="preserve">100</text>
<text x="761.2" y="165.46" fill="#e64614" text-anchor="start" font-size="11" xml:space="preserve"> 95</text>
<text x="761.2" y="180.46" fill="#e64614" text-anchor="start" font-size="11" xml:space="preserve"> 90</text>
<text x="761.2" y="195.46" fill="#e64614" text-anchor="start" font-size="11" xml:space="preserve"> 85</text>
<text x="761.2" y="210.46" fill="#e64614" text-anchor="start" font-size="11" xml:space="preserve"> 80</text>
<text x="761.2" y="225.96" fill="#e64614" text-anchor="start" font-size="11" xml:space="preserve"> 75</text>
<text x="761.2" y="251.46" fill="#000" text-anchor="start" font-size="11" xml:space="preserve">761</text>
<text x="761.2" y="271.46" fill="#000" text-anchor="start" font-size="11" xml:space="preserve">758</text>
<text x="761.2" y="291.46" fill="#000" text-anchor="start" font-size="11" xml:space="preserve">754</text>
<text x="761.2" y="313.46" fill="#000" text-anchor="start" font-size="11" xml:space="preserve">750</text>
<text x="761.2" y="323.46" fill="#000" text-anchor="start" font-size="11" xml:space="preserve">54</text>
<text x="761.2" y="348.46" fill="#000" text-anchor="start" font-size="11" xml:space="preserve">36</text>
<text x="761.2" y="373.96" fill="#000" text-anchor="start" font-size="11" xml:space="preserve">18</text>
<text x="761.2" y="399.46" fill="#000" text-anchor="start" font-size="11" xml:space="preserve"> 0</text>
<text x="761.2" y="441.66" fill="#ff8200" text-anchor="start" font-size="11" xml:space="preserve">100</text>
<text x="761.2" y="461.76" fill="#ff8200" text-anchor="start" font-size="11" xml:space="preserve">20</text>
<text x="761.2" y="480.86" fill="#ff8200" text-anchor="start" font-size="11" xml:space="preserve">5</text>
<text x="761.2" y="500.56" fill="#ff8200" text-anchor="start" font-size="11" xml:space="preserve">1</text>
<text x="761.2" y="520.26" fill="#ff8200" text-anchor="start" font-size="11" xml:space="preserve">0</text>
<text x="761.2" y="530.76" fill="#ff8200" text-anchor="start" font-size="11" xml:space="preserve">1</text>
<text x="761.2" y="549.26" fill="#ff8200" text-anchor="start" font-size="11" xml:space="preserve">0.75</text>
<text x="761.2" y="568.96" fill="#ff8200" text-anchor="start" font-size="11" xml:space="preserve">0.5</text>
<text x="761.2" y="587.96" fill="#ff8200" text-anchor="start" font-size="11" xml:space="preserve">0.25</text>
<text x="761.2" y="607.76" fill="#ff8200" text-anchor="start" font-size="11" xml:space="preserve">0</text>
<text transform="translate(292.9,96.5) rotate(-90)" fill="#0a0aa0" text-anchor="middle" font-size="12">temperatura</text>
<text transform="translate(306.9,97) rotate(-90)" fill="#0a0aa0" text-anchor="middle" font-size="12">(°C)</text>
<text transform="translate(292.9,184.5) rotate(-90)" fill="#0a0aa0" text-anchor="middle" font-size="12">opad</text>
<text transform="translate(305.6,185) rotate(-90)" fill="#0a0aa0" text-anchor="middle" font-size="12">(mm/h, kg/m²/h)</text>
<text transform="translate(292.9,273) rotate(-90)" fill="#0a0aa0" text-anchor="middle" font-size="12">ciśnienie</text>
<text transform="translate(305.9,272.7) rotate(-90)" fill="#0a0aa0" text-anchor="middle" font-size="12">(hPa)</text>
<text transform="translate(293.4,361.4) rotate(-90)" fill="#0a0aa0" text-anchor="middle" font-size="12">wiatr</text>
<text transform="translate(306,361.4) rotate(-90)" fill="#0a0aa0" text-anchor="middle" font-size="12">(m/s)</text>
<text transform="translate(293,474) rotate(-90)" fill="#0a0aa0" text-anchor="middle" font-size="12">pion. rozciągł. chm.</text>
<text transform="translate(305.3,471) rotate(-90)" fill="#0a0aa0" text-anchor="middle" font-size="12">(km)</text>
<text transform="translate(293,571.5) rotate(-90)" fill="#0a0aa0" text-anchor="middle" font-size="12">zachmurzenie</text>
<text transform="translate(305.6,562.5) rotate(-90)" fill="#0a0aa0" text-anchor="middle" font-size="12">(oktanty)</text>
<text transform="translate(816.2,96.2) rotate(-90)" fill="#0a0aa0" text-anchor="middle" font-size="12">temperatura</text>
<text transform="translate(802.8,96.7) rotate(-90)" fill="#0a0aa0" text-anchor="middle" font-size="12">(°C)</text>
<text transform="translate(816.2,185.6) rotate(-90)" fill="#0a0aa0" text-anchor="middle" font-size="12">wilgotność wzgl.</text>
<text transform="translate(803.1,185.5) rotate(-90)" fill="#0a0aa0" text-anchor="middle" font-size="12">(%)</text>
<text transform="translate(816.2,273) rotate(-90)" fill="#0a0aa0" text-anchor="middle" font-size="12">ciśnienie</text>
<text transform="translate(803.1,273.2) rotate(-90)" fill="#0a0aa0" text-anchor="middle" font-size="12">(mm Hg)</text>
<text transform="translate(816.4,361.2) rotate(-90)" fill="#0a0aa0" text-anchor="middle" font-size="12">wiatr</text>
<text transform="translate(802.9,361.5) rotate(-90)" fill="#0a0aa0" text-anchor="middle" font-size="12">(km/h)</text>
<text transform="translate(816.3,474.8) rotate(-90)" fill="#0a0aa0" text-anchor="middle" font-size="12">widzialność</text>
<text transform="translate(804.1,474.2) rotate(-90)" fill="#0a0aa0" text-anchor="middle" font-size="12">(km)</text>
<text transform="translate(816.3,563.4) rotate(-90)" fill="#0a0aa0" text-anchor="middle" font-size="12">mgła</text>
<text transform="translate(803.9,562.6) rotate(-90)" fill="#0a0aa0" text-anchor="middle" font-size="12">(frakcja)</text>
<text x="298.8" y="411.62" fill="#0a0aa0" text-anchor="middle" font-size="12" >N</text>
<text x="289.4" y="419.92" fill="#0a0aa0" text-anchor="middle" font-size="12" >W</text>
<text x="305.2" y="419.92" fill="#0a0aa0" text-anchor="middle" font-size="12" >E</text>
<text x="298" y="427.82" fill="#0a0aa0" text-anchor="middle" font-size="12" >S</text>
<text x="807.8" y="411.62" fill="#0a0aa0" text-anchor="middle" font-size="12" >N</text>
<text x="798.4" y="419.92" fill="#0a0aa0" text-anchor="middle" font-size="12" >W</text>
<text x="814.2" y="419.92" fill="#0a0aa0" text-anchor="middle" font-size="12" >E</text>
<text x="807" y="427.82" fill="#0a0aa0" text-anchor="middle" font-size="12" >S</text>
<text x="5" y="18.39" fill="#000" text-anchor="start" font-size="10.8" textLength="60.2" lengthAdjust="spacingAndGlyphs" >Czas lokalny</text>
<text x="5.4" y="30.39" fill="#000" text-anchor="start" font-size="10.8" textLength="55.1" lengthAdjust="spacingAndGlyphs" >(CET/CEST)</text>
<text x="5.7" y="46.39" fill="#a52a2a" text-anchor="start" font-size="10.8" textLength="94.3" lengthAdjust="spacingAndGlyphs" >Temperatura gruntu</text>
<text x="27.3" y="56.49" fill="#a52a2a" text-anchor="start" font-size="10.8" textLength="39.5" lengthAdjust="spacingAndGlyphs" >max/min</text>
<text x="4.8" y="68.19" fill="#000" text-anchor="start" font-size="10.8" textLength="63.1" lengthAdjust="spacingAndGlyphs" >Temperatura:</text>
<text x="12.5" y="80.13" fill="#ff0000" text-anchor="start" font-size="11.2" textLength="77.9" lengthAdjust="spacingAndGlyphs" >punkt środkowy</text>
<text x="27.3" y="90.39" fill="#ffd7cd" text-anchor="start" font-size="10.8" textLength="39.5" lengthAdjust="spacingAndGlyphs" >max/min</text>
<text x="9.3" y="102.33" fill="#0000ff" text-anchor="start" font-size="11.2" textLength="58.6" lengthAdjust="spacingAndGlyphs" >odczuwana</text>
<text x="27.3" y="112.49" fill="#aadcff" text-anchor="start" font-size="10.8" textLength="39.4" lengthAdjust="spacingAndGlyphs" >max/min</text>
<text x="5.9" y="124.09" fill="#6e5ad2" text-anchor="start" font-size="10.8" textLength="87.6" lengthAdjust="spacingAndGlyphs" >Temp. punktu rosy</text>
<text x="5.9" y="141.23" fill="#ff0000" text-anchor="start" font-size="11.2" textLength="95" lengthAdjust="spacingAndGlyphs" >Opad powyżej skali</text>
<text x="5.9" y="154.29" fill="#e64614" text-anchor="start" font-size="10.8" textLength="97.9" lengthAdjust="spacingAndGlyphs" >Wilgotność względna</text>
<text x="5.9" y="169.49" fill="#000" text-anchor="start" font-size="10.8" textLength="85.1" lengthAdjust="spacingAndGlyphs" >Wystąpienie burzy</text>
<text x="5.6" y="183.23" fill="#00aa00" text-anchor="start" font-size="11.2" textLength="40.1" lengthAdjust="spacingAndGlyphs" >Deszcz:</text>
<text x="49.1" y="183.23" fill="#00aa00" text-anchor="start" font-size="11.2" textLength="20.5" lengthAdjust="spacingAndGlyphs" >max</text>
<text x="48.6" y="194.33" fill="#00aa00" text-anchor="start" font-size="11.2" textLength="30.4" lengthAdjust="spacingAndGlyphs" >średni</text>
<text x="5.6" y="205.43" fill="#0a32c8" text-anchor="start" font-size="11.2" textLength="30.8" lengthAdjust="spacingAndGlyphs" >Śnieg:</text>
<text x="48.6" y="205.63" fill="#0a32c8" text-anchor="start" font-size="11.2" textLength="19.9" lengthAdjust="spacingAndGlyphs" >max</text>
<text x="48.6" y="216.03" fill="#0a32c8" text-anchor="start" font-size="11.2" textLength="30.4" lengthAdjust="spacingAndGlyphs" >średni</text>
<text x="5.6" y="228.53" fill="#ff0000" text-anchor="start" font-size="11.2" textLength="89.3" lengthAdjust="spacingAndGlyphs" >Wystąpienie opadu</text>
<text x="5.6" y="241.33" fill="#ff0000" text-anchor="start" font-size="11.2" textLength="72.2" lengthAdjust="spacingAndGlyphs" >konwekcyjnego</text>
<text x="4.4" y="267.19" fill="#000" text-anchor="start" font-size="10.8" textLength="43.1" lengthAdjust="spacingAndGlyphs" >Ciśnienie</text>
<text x="4.4" y="280.39" fill="#000" text-anchor="start" font-size="10.8" textLength="67" lengthAdjust="spacingAndGlyphs" >zredukowane</text>
<text x="4.4" y="293.19" fill="#000" text-anchor="start" font-size="10.8" textLength="88.3" lengthAdjust="spacingAndGlyphs" >do poziomu morza</text>
<text x="4.7" y="322.19" fill="#000" text-anchor="start" font-size="10.8" textLength="67.2" lengthAdjust="spacingAndGlyphs" >Wiatr na 10m:</text>
<text x="9.3" y="338.27" fill="#ff0000" text-anchor="start" font-size="11.3" textLength="101.3" lengthAdjust="spacingAndGlyphs" >poryw powyżej skali</text>
<text x="9.3" y="352.37" fill="#ff0000" text-anchor="start" font-size="11.3" textLength="95.6" lengthAdjust="spacingAndGlyphs" >max porywy wiatru</text>
<text x="9.4" y="372.57" fill="#0a0aa0" text-anchor="start" font-size="11.3" textLength="79.1" lengthAdjust="spacingAndGlyphs" >prędkość wiatru</text>
<text x="9.4" y="385.07" fill="#0a0aa0" text-anchor="start" font-size="11.3" textLength="89.4" lengthAdjust="spacingAndGlyphs" >w środku obszaru</text>
<text x="9.3" y="413.53" fill="#0a0aa0" text-anchor="start" font-size="11.2" textLength="74.5" lengthAdjust="spacingAndGlyphs" >kierunek wiatru</text>
<text x="5.6" y="433.06" fill="#a52a2a" text-anchor="start" font-size="11" textLength="91.7" lengthAdjust="spacingAndGlyphs" >Wierzchołek chmur</text>
<text x="5.6" y="448.09" fill="#000" text-anchor="start" font-size="10.8" textLength="85.7" lengthAdjust="spacingAndGlyphs" >Podstawa chmur*</text>
<text x="5.6" y="459.49" fill="#000" text-anchor="start" font-size="10.8" textLength="48.2" lengthAdjust="spacingAndGlyphs" >o pokryciu</text>
<text x="10.2" y="472.29" fill="#000" text-anchor="start" font-size="10.8" textLength="44.9" lengthAdjust="spacingAndGlyphs" >> 7.9 okt.</text>
<text x="10.2" y="483.09" fill="#555" text-anchor="start" font-size="10.8" textLength="44.9" lengthAdjust="spacingAndGlyphs" >> 6.5 okt.</text>
<text x="10.2" y="494.49" fill="#999" text-anchor="start" font-size="10.8" textLength="44.1" lengthAdjust="spacingAndGlyphs" >> 4.5 okt.</text>
<text x="10.2" y="504.39" fill="#ccc" text-anchor="start" font-size="10.8" textLength="44.1" lengthAdjust="spacingAndGlyphs" >> 2.5 okt.</text>
<rect x="11.1" y="505.3" width="43.9" height="11.1" fill="#87d3ff" />
<text x="11" y="515.09" fill="#fff" text-anchor="start" font-size="10.8" textLength="43.9" lengthAdjust="spacingAndGlyphs" >> 0.1 okt.</text>
<text x="5.6" y="529.87" fill="#ff8200" text-anchor="start" font-size="11.3" textLength="58.1" lengthAdjust="spacingAndGlyphs" >Widzialność</text>
<text x="5.6" y="547.09" fill="#000" text-anchor="start" font-size="10.8" textLength="39.3" lengthAdjust="spacingAndGlyphs" >Chmury:</text>
<rect x="10.2" y="551.4" width="40.7" height="11.1" fill="#87d3ff" />
<text x="10.8" y="560.87" fill="#fff" text-anchor="start" font-size="11.3" textLength="40.2" lengthAdjust="spacingAndGlyphs" >wysokie</text>
<text x="9.3" y="573.29" fill="#999" text-anchor="start" font-size="10.8" textLength="36.4" lengthAdjust="spacingAndGlyphs" >średnie</text>
<text x="9.3" y="585.19" fill="#444" text-anchor="start" font-size="10.8" textLength="27.4" lengthAdjust="spacingAndGlyphs" >niskie</text>
<text x="9.3" y="596.89" fill="#222" text-anchor="start" font-size="10.8" textLength="62.1" lengthAdjust="spacingAndGlyphs" >bardzo niskie</text>
<text x="5.6" y="609.09" fill="#ffb400" text-anchor="start" font-size="10.8" textLength="21" lengthAdjust="spacingAndGlyphs" >Mgła</text>
<text x="5.6" y="626.4" fill="#000" text-anchor="start" font-size="11.4" textLength="132.3" lengthAdjust="spacingAndGlyphs" >Czas uniwersalny (UTC)</text>
<text x="4.7" y="651.06" fill="#000" text-anchor="start" font-size="9.6" textLength="104.2" lengthAdjust="spacingAndGlyphs" font-weight="bold">* powyżej poziomu morza</text>
<text x="128.7" y="63.35" fill="#000" text-anchor="end" font-size="10.7" >30</text>
<text x="128.7" y="81.35" fill="#000" text-anchor="end" font-size="10.7" >20</text>
<text x="128.7" y="98.35" fill="#000" text-anchor="end" font-size="10.7" >10</text>
<text x="128.7" y="115.35" fill="#000" text-anchor="end" font-size="10.7" >0</text>
<text x="128.7" y="133.35" fill="#000" text-anchor="end" font-size="10.7" >-10</text>
<text x="128.7" y="154.35" fill="#000" text-anchor="end" font-size="10.7" >2.0</text>
<text x="128.7" y="172.35" fill="#000" text-anchor="end" font-size="10.7" >1.5</text>
<text x="128.7" y="189.35" fill="#000" text-anchor="end" font-size="10.7" >1.0</text>
<text x="128.7" y="207.35" fill="#000" text-anchor="end" font-size="10.7" >0.5</text>
<text x="128.7" y="224.35" fill="#000" text-anchor="end" font-size="10.7" >0.0</text>
<text x="128.7" y="235.35" fill="#000" text-anchor="end" font-size="10.7" >1018</text>
<text x="128.7" y="258.35" fill="#000" text-anchor="end" font-size="10.7" >1016</text>
<text x="128.7" y="282.35" fill="#000" text-anchor="end" font-size="10.7" >1014</text>
<text x="128.7" y="305.35" fill="#000" text-anchor="end" font-size="10.7" >1012</text>
<text x="128.7" y="319.35" fill="#000" text-anchor="end" font-size="10.7" >20</text>
<text x="128.7" y="338.35" fill="#000" text-anchor="end" font-size="10.7" >15</text>
<text x="128.7" y="358.35" fill="#000" text-anchor="end" font-size="10.7" >10</text>
<text x="128.7" y="377.35" fill="#000" text-anchor="end" font-size="10.7" >5</text>
<text x="128.7" y="396.35" fill="#000" text-anchor="end" font-size="10.7" >0</text>
<text x="128.7" y="440.65" fill="#000" text-anchor="end" font-size="10.7" >15.0</text>
<text x="128.7" y="460.35" fill="#000" text-anchor="end" font-size="10.7" >7.0</text>
<text x="128.7" y="479.35" fill="#000" text-anchor="end" font-size="10.7" >2.0</text>
<text x="128.7" y="499.35" fill="#000" text-anchor="end" font-size="10.7" >0.5</text>
<text x="128.7" y="518.35" fill="#000" text-anchor="end" font-size="10.7" >0.0</text>
<text x="128.7" y="527.35" fill="#000" text-anchor="end" font-size="10.7" >8</text>
<text x="128.7" y="547.35" fill="#000" text-anchor="end" font-size="10.7" >6</text>
<text x="128.7" y="566.35" fill="#000" text-anchor="end" font-size="10.7" >4</text>
<text x="128.7" y="586.35" fill="#000" text-anchor="end" font-size="10.7" >2</text>
<text x="128.7" y="605.35" fill="#000" text-anchor="end" font-size="10.7" >0</text>
<text x="266" y="63.35" fill="#000" text-anchor="end" font-size="10.7" >30</text>
<text x="266" y="81.35" fill="#000" text-anchor="end" font-size="10.7" >20</text>
<text x="266" y="98.35" fill="#000" text-anchor="end" font-size="10.7" >10</text>
<text x="266" y="115.35" fill="#000" text-anchor="end" font-size="10.7" >0</text>
<text x="266" y="133.35" fill="#000" text-anchor="end" font-size="10.7" >-10</text>
<text x="254" y="154.35" fill="#e64614" text-anchor="start" font-size="10.7" >96</text>
<text x="254" y="172.35" fill="#e64614" text-anchor="start" font-size="10.7" >84</text>
<text x="254" y="189.35" fill="#e64614" text-anchor="start" font-size="10.7" >73</text>
<text x="254" y="207.35" fill="#e64614" text-anchor="start" font-size="10.7" >61</text>
<text x="254" y="224.35" fill="#e64614" text-anchor="start" font-size="10.7" >50</text>
<text x="250.5" y="235.35" fill="#000" text-anchor="start" font-size="10.7" >1018</text>
<text x="250.5" y="258.35" fill="#000" text-anchor="start" font-size="10.7" >1016</text>
<text x="250.5" y="282.35" fill="#000" text-anchor="start" font-size="10.7" >1014</text>
<text x="250.5" y="305.35" fill="#000" text-anchor="start" font-size="10.7" >1012</text>
<text x="257" y="319.35" fill="#000" text-anchor="middle" font-size="10.7" >72</text>
<text x="257" y="338.35" fill="#000" text-anchor="middle" font-size="10.7" >54</text>
<text x="257" y="358.35" fill="#000" text-anchor="middle" font-size="10.7" >36</text>
<text x="257" y="377.35" fill="#000" text-anchor="middle" font-size="10.7" >18</text>
<text x="257" y="396.35" fill="#000" text-anchor="middle" font-size="10.7" >0</text>
<text x="250.5" y="440.65" fill="#ff8200" text-anchor="start" font-size="10.7" >100</text>
<text x="250.5" y="460.35" fill="#ff8200" text-anchor="start" font-size="10.7" >20</text>
<text x="250.5" y="479.35" fill="#ff8200" text-anchor="start" font-size="10.7" >5</text>
<text x="250.5" y="499.35" fill="#ff8200" text-anchor="start" font-size="10.7" >1</text>
<text x="250.5" y="518.35" fill="#ff8200" text-anchor="start" font-size="10.7" >0</text>
<text x="250.5" y="527.35" fill="#ff8200" text-anchor="start" font-size="10.7" >1</text>
<text x="250.5" y="547.35" fill="#ff8200" text-anchor="start" font-size="10.7" >0.75</text>
<text x="250.5" y="566.35" fill="#ff8200" text-anchor="start" font-size="10.7" >0.5</text>
<text x="250.5" y="586.35" fill="#ff8200" text-anchor="start" font-size="10.7" >0.25</text>
<text x="250.5" y="605.35" fill="#ff8200" text-anchor="start" font-size="10.7" >0</text>
<text x="163.9" y="52.12" fill="#000" text-anchor="middle" font-size="12" >20</text>
<text x="203.8" y="52.12" fill="#000" text-anchor="middle" font-size="12" >02</text>
<text x="244.8" y="52.12" fill="#000" text-anchor="middle" font-size="12" >08</text>
<text x="163.9" y="614.32" fill="#000" text-anchor="middle" font-size="12" >18</text>
<text x="203.8" y="614.32" fill="#000" text-anchor="middle" font-size="12" >00</text>
<text x="244.8" y="614.32" fill="#000" text-anchor="middle" font-size="12" >06</text>
</svg>
</body></html>
